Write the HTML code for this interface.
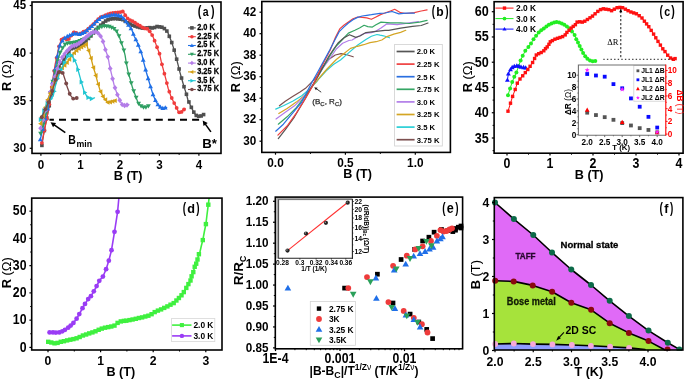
<!DOCTYPE html>
<html><head><meta charset="utf-8"><style>
html,body{margin:0;padding:0;background:#fff;width:685px;height:380px;overflow:hidden}
svg{display:block;will-change:transform}
</style></head><body>
<svg width="685" height="380" viewBox="0 0 685 380" font-family='"Liberation Sans", sans-serif'>
<rect width="685" height="380" fill="#fff"/>
<polyline points="41.9,145.4 43,138 45,127 47,117 49,107 51,97 53,88 55,80 57,72 59.5,66 63,61 67,55 71.3,48.7 75,47.5 79.2,46.1 84.2,42.7 90.5,36.4 95.8,30.1 101.1,24.8 105.3,21.2 109.5,19.1 114.7,18.5 120,19.1 123.2,19.7 127.9,22.9 132.7,25.3 137.4,26.9 143.7,28.4 149.2,27.6 153.2,28.1 157.1,26.5 161.9,27.2 164.2,28.4 167.4,31.6 169.5,36.8 171.6,42.1 173.7,48.4 175.8,55.8 177.9,64.2 180,72.6 182.1,80 184.2,87.4 186.3,93.7 187.8,99.5 190.8,106.2 193.3,111.4 195.9,115.3 199.3,116.5 202.4,115.6 204.4,113.9" fill="none" stroke="#4f4f4f" stroke-width="1.3" stroke-linejoin="round" stroke-linecap="round"/>
<rect x="40.1" y="143.6" width="3.6" height="3.6" fill="#4f4f4f"/>
<rect x="42.55" y="128.78" width="3.6" height="3.6" fill="#4f4f4f"/>
<rect x="45" y="116.2" width="3.6" height="3.6" fill="#4f4f4f"/>
<rect x="47.45" y="103.95" width="3.6" height="3.6" fill="#4f4f4f"/>
<rect x="49.9" y="92.05" width="3.6" height="3.6" fill="#4f4f4f"/>
<rect x="52.35" y="81.6" width="3.6" height="3.6" fill="#4f4f4f"/>
<rect x="54.8" y="71.8" width="3.6" height="3.6" fill="#4f4f4f"/>
<rect x="57.25" y="65.28" width="3.6" height="3.6" fill="#4f4f4f"/>
<rect x="59.7" y="61.34" width="3.6" height="3.6" fill="#4f4f4f"/>
<rect x="62.15" y="57.78" width="3.6" height="3.6" fill="#4f4f4f"/>
<rect x="64.6" y="54.1" width="3.6" height="3.6" fill="#4f4f4f"/>
<rect x="67.05" y="50.49" width="3.6" height="3.6" fill="#4f4f4f"/>
<rect x="69.5" y="46.9" width="3.6" height="3.6" fill="#4f4f4f"/>
<rect x="71.95" y="46.11" width="3.6" height="3.6" fill="#4f4f4f"/>
<rect x="74.4" y="45.3" width="3.6" height="3.6" fill="#4f4f4f"/>
<rect x="76.85" y="44.48" width="3.6" height="3.6" fill="#4f4f4f"/>
<rect x="79.3" y="43.01" width="3.6" height="3.6" fill="#4f4f4f"/>
<rect x="81.75" y="41.34" width="3.6" height="3.6" fill="#4f4f4f"/>
<rect x="84.2" y="39.1" width="3.6" height="3.6" fill="#4f4f4f"/>
<rect x="86.65" y="36.65" width="3.6" height="3.6" fill="#4f4f4f"/>
<rect x="89.1" y="34.12" width="3.6" height="3.6" fill="#4f4f4f"/>
<rect x="91.55" y="31.21" width="3.6" height="3.6" fill="#4f4f4f"/>
<rect x="94" y="28.3" width="3.6" height="3.6" fill="#4f4f4f"/>
<rect x="96.45" y="25.85" width="3.6" height="3.6" fill="#4f4f4f"/>
<rect x="98.9" y="23.4" width="3.6" height="3.6" fill="#4f4f4f"/>
<rect x="101.35" y="21.24" width="3.6" height="3.6" fill="#4f4f4f"/>
<rect x="103.8" y="19.25" width="3.6" height="3.6" fill="#4f4f4f"/>
<rect x="106.25" y="18.02" width="3.6" height="3.6" fill="#4f4f4f"/>
<rect x="108.7" y="17.18" width="3.6" height="3.6" fill="#4f4f4f"/>
<rect x="111.15" y="16.9" width="3.6" height="3.6" fill="#4f4f4f"/>
<rect x="113.6" y="16.78" width="3.6" height="3.6" fill="#4f4f4f"/>
<rect x="116.05" y="17.06" width="3.6" height="3.6" fill="#4f4f4f"/>
<rect x="118.5" y="17.36" width="3.6" height="3.6" fill="#4f4f4f"/>
<rect x="120.95" y="17.82" width="3.6" height="3.6" fill="#4f4f4f"/>
<rect x="123.4" y="19.26" width="3.6" height="3.6" fill="#4f4f4f"/>
<rect x="125.85" y="20.93" width="3.6" height="3.6" fill="#4f4f4f"/>
<rect x="128.3" y="22.2" width="3.6" height="3.6" fill="#4f4f4f"/>
<rect x="130.75" y="23.43" width="3.6" height="3.6" fill="#4f4f4f"/>
<rect x="133.2" y="24.28" width="3.6" height="3.6" fill="#4f4f4f"/>
<rect x="135.65" y="25.11" width="3.6" height="3.6" fill="#4f4f4f"/>
<rect x="138.1" y="25.7" width="3.6" height="3.6" fill="#4f4f4f"/>
<rect x="140.55" y="26.28" width="3.6" height="3.6" fill="#4f4f4f"/>
<rect x="143" y="26.44" width="3.6" height="3.6" fill="#4f4f4f"/>
<rect x="145.45" y="26.08" width="3.6" height="3.6" fill="#4f4f4f"/>
<rect x="147.9" y="25.86" width="3.6" height="3.6" fill="#4f4f4f"/>
<rect x="150.35" y="26.17" width="3.6" height="3.6" fill="#4f4f4f"/>
<rect x="152.8" y="25.73" width="3.6" height="3.6" fill="#4f4f4f"/>
<rect x="155.25" y="24.72" width="3.6" height="3.6" fill="#4f4f4f"/>
<rect x="157.7" y="25.05" width="3.6" height="3.6" fill="#4f4f4f"/>
<rect x="160.15" y="25.43" width="3.6" height="3.6" fill="#4f4f4f"/>
<rect x="162.6" y="26.8" width="3.6" height="3.6" fill="#4f4f4f"/>
<rect x="165.05" y="29.25" width="3.6" height="3.6" fill="#4f4f4f"/>
<rect x="167.5" y="34.5" width="3.6" height="3.6" fill="#4f4f4f"/>
<rect x="169.95" y="40.75" width="3.6" height="3.6" fill="#4f4f4f"/>
<rect x="172.4" y="48.36" width="3.6" height="3.6" fill="#4f4f4f"/>
<rect x="174.85" y="57.4" width="3.6" height="3.6" fill="#4f4f4f"/>
<rect x="177.3" y="67.2" width="3.6" height="3.6" fill="#4f4f4f"/>
<rect x="179.75" y="76.26" width="3.6" height="3.6" fill="#4f4f4f"/>
<rect x="182.2" y="84.9" width="3.6" height="3.6" fill="#4f4f4f"/>
<rect x="184.65" y="92.48" width="3.6" height="3.6" fill="#4f4f4f"/>
<rect x="187.1" y="100.16" width="3.6" height="3.6" fill="#4f4f4f"/>
<rect x="189.55" y="105.54" width="3.6" height="3.6" fill="#4f4f4f"/>
<rect x="192" y="110.35" width="3.6" height="3.6" fill="#4f4f4f"/>
<rect x="194.45" y="113.62" width="3.6" height="3.6" fill="#4f4f4f"/>
<rect x="196.9" y="114.49" width="3.6" height="3.6" fill="#4f4f4f"/>
<rect x="199.35" y="114.16" width="3.6" height="3.6" fill="#4f4f4f"/>
<rect x="201.8" y="112.78" width="3.6" height="3.6" fill="#4f4f4f"/>
<polyline points="41.9,142.8 44,132 47,118 49,106 51.2,90.5 53,78 55.2,64.2 57,56 58.5,48 60.5,42 62.1,38.2 65,38.5 68,40.1 71,36 74.6,31.3 77,33.8 79.9,34.5 83.2,31.6 86,31 88,29 92.6,25 97.9,19.5 100,17.5 104,16 109.7,13.4 115.3,12.6 119.2,12.3 123.2,11.4 125.5,15.8 128.7,19.7 131.4,20.5 134.2,22.1 137.4,24.5 140.6,26.1 143.7,28.4 146.9,28.4 150,31.6 152.4,35.5 154.8,41.1 157.1,47.4 159.5,53.7 161.2,61.4 163.6,70.7 165.8,78.9 168.2,88.5 170.8,96 173.4,101.5 176,106.5 178.5,112 180.5,113 182.5,111 185,108.5" fill="none" stroke="#f03c3c" stroke-width="1.3" stroke-linejoin="round" stroke-linecap="round"/>
<circle cx="41.9" cy="142.8" r="1.9" fill="#f03c3c"/>
<circle cx="44.35" cy="130.37" r="1.9" fill="#f03c3c"/>
<circle cx="46.8" cy="118.93" r="1.9" fill="#f03c3c"/>
<circle cx="49.25" cy="104.24" r="1.9" fill="#f03c3c"/>
<circle cx="51.7" cy="87.03" r="1.9" fill="#f03c3c"/>
<circle cx="54.15" cy="70.79" r="1.9" fill="#f03c3c"/>
<circle cx="56.6" cy="57.82" r="1.9" fill="#f03c3c"/>
<circle cx="59.05" cy="46.35" r="1.9" fill="#f03c3c"/>
<circle cx="61.5" cy="39.63" r="1.9" fill="#f03c3c"/>
<circle cx="63.95" cy="38.39" r="1.9" fill="#f03c3c"/>
<circle cx="66.4" cy="39.25" r="1.9" fill="#f03c3c"/>
<circle cx="68.85" cy="38.94" r="1.9" fill="#f03c3c"/>
<circle cx="71.3" cy="35.61" r="1.9" fill="#f03c3c"/>
<circle cx="73.75" cy="32.41" r="1.9" fill="#f03c3c"/>
<circle cx="76.2" cy="32.97" r="1.9" fill="#f03c3c"/>
<circle cx="78.65" cy="34.2" r="1.9" fill="#f03c3c"/>
<circle cx="81.1" cy="33.45" r="1.9" fill="#f03c3c"/>
<circle cx="83.55" cy="31.53" r="1.9" fill="#f03c3c"/>
<circle cx="86" cy="31" r="1.9" fill="#f03c3c"/>
<circle cx="88.45" cy="28.61" r="1.9" fill="#f03c3c"/>
<circle cx="90.9" cy="26.48" r="1.9" fill="#f03c3c"/>
<circle cx="93.35" cy="24.22" r="1.9" fill="#f03c3c"/>
<circle cx="95.8" cy="21.68" r="1.9" fill="#f03c3c"/>
<circle cx="98.25" cy="19.17" r="1.9" fill="#f03c3c"/>
<circle cx="100.7" cy="17.24" r="1.9" fill="#f03c3c"/>
<circle cx="103.15" cy="16.32" r="1.9" fill="#f03c3c"/>
<circle cx="105.6" cy="15.27" r="1.9" fill="#f03c3c"/>
<circle cx="108.05" cy="14.15" r="1.9" fill="#f03c3c"/>
<circle cx="110.5" cy="13.29" r="1.9" fill="#f03c3c"/>
<circle cx="112.95" cy="12.94" r="1.9" fill="#f03c3c"/>
<circle cx="115.4" cy="12.59" r="1.9" fill="#f03c3c"/>
<circle cx="117.85" cy="12.4" r="1.9" fill="#f03c3c"/>
<circle cx="120.3" cy="12.05" r="1.9" fill="#f03c3c"/>
<circle cx="122.75" cy="11.5" r="1.9" fill="#f03c3c"/>
<circle cx="125.2" cy="15.23" r="1.9" fill="#f03c3c"/>
<circle cx="127.65" cy="18.42" r="1.9" fill="#f03c3c"/>
<circle cx="130.1" cy="20.11" r="1.9" fill="#f03c3c"/>
<circle cx="132.55" cy="21.16" r="1.9" fill="#f03c3c"/>
<circle cx="135" cy="22.7" r="1.9" fill="#f03c3c"/>
<circle cx="137.45" cy="24.52" r="1.9" fill="#f03c3c"/>
<circle cx="139.9" cy="25.75" r="1.9" fill="#f03c3c"/>
<circle cx="142.35" cy="27.4" r="1.9" fill="#f03c3c"/>
<circle cx="144.8" cy="28.4" r="1.9" fill="#f03c3c"/>
<circle cx="147.25" cy="28.76" r="1.9" fill="#f03c3c"/>
<circle cx="149.7" cy="31.29" r="1.9" fill="#f03c3c"/>
<circle cx="152.15" cy="35.09" r="1.9" fill="#f03c3c"/>
<circle cx="154.6" cy="40.63" r="1.9" fill="#f03c3c"/>
<circle cx="157.05" cy="47.26" r="1.9" fill="#f03c3c"/>
<circle cx="159.5" cy="53.7" r="1.9" fill="#f03c3c"/>
<circle cx="161.95" cy="64.31" r="1.9" fill="#f03c3c"/>
<circle cx="164.4" cy="73.68" r="1.9" fill="#f03c3c"/>
<circle cx="166.85" cy="83.1" r="1.9" fill="#f03c3c"/>
<circle cx="169.3" cy="91.67" r="1.9" fill="#f03c3c"/>
<circle cx="171.75" cy="98.01" r="1.9" fill="#f03c3c"/>
<circle cx="174.2" cy="103.04" r="1.9" fill="#f03c3c"/>
<circle cx="176.65" cy="107.93" r="1.9" fill="#f03c3c"/>
<circle cx="179.1" cy="112.3" r="1.9" fill="#f03c3c"/>
<circle cx="181.55" cy="111.95" r="1.9" fill="#f03c3c"/>
<circle cx="184" cy="109.5" r="1.9" fill="#f03c3c"/>
<polyline points="40.3,139.5 43,128 46,115 48.6,105 50.3,95 51.9,85.3 54.5,72.1 56.5,62 58.2,51.3 60.1,44.7 63.4,38.8 68.7,35.5 74.6,33.5 79.9,34.2 84.5,32.2 88,29.5 92.6,25.4 97.9,20.1 102.1,16.9 107.4,15.9 113.7,14.6 116.9,15 120.8,15.8 124.8,19.7 128.7,25.3 131.9,30 134.2,36.3 137.4,42.7 139.8,49 142.1,55.3 144,63.3 146.4,72.5 148.8,80.8 151,88.1 153.3,95.5 156.2,102 159.3,106.6 163,108.4 166.7,107.5" fill="none" stroke="#1f6fe6" stroke-width="1.3" stroke-linejoin="round" stroke-linecap="round"/>
<polygon points="40.3,136.97 37.88,141.26 42.72,141.26" fill="#1f6fe6"/>
<polygon points="42.75,126.53 40.33,130.82 45.17,130.82" fill="#1f6fe6"/>
<polygon points="45.2,115.94 42.78,120.23 47.62,120.23" fill="#1f6fe6"/>
<polygon points="47.65,106.12 45.23,110.41 50.07,110.41" fill="#1f6fe6"/>
<polygon points="50.1,93.65 47.68,97.94 52.52,97.94" fill="#1f6fe6"/>
<polygon points="52.55,79.47 50.13,83.76 54.97,83.76" fill="#1f6fe6"/>
<polygon points="55,67.05 52.58,71.34 57.42,71.34" fill="#1f6fe6"/>
<polygon points="57.45,53.49 55.03,57.78 59.87,57.78" fill="#1f6fe6"/>
<polygon points="59.9,42.86 57.48,47.15 62.32,47.15" fill="#1f6fe6"/>
<polygon points="62.35,38.15 59.93,42.44 64.77,42.44" fill="#1f6fe6"/>
<polygon points="64.8,35.4 62.38,39.69 67.22,39.69" fill="#1f6fe6"/>
<polygon points="67.25,33.87 64.83,38.16 69.67,38.16" fill="#1f6fe6"/>
<polygon points="69.7,32.63 67.28,36.92 72.12,36.92" fill="#1f6fe6"/>
<polygon points="72.15,31.8 69.73,36.09 74.57,36.09" fill="#1f6fe6"/>
<polygon points="74.6,30.97 72.18,35.26 77.02,35.26" fill="#1f6fe6"/>
<polygon points="77.05,31.29 74.63,35.58 79.47,35.58" fill="#1f6fe6"/>
<polygon points="79.5,31.62 77.08,35.91 81.92,35.91" fill="#1f6fe6"/>
<polygon points="81.95,30.78 79.53,35.07 84.37,35.07" fill="#1f6fe6"/>
<polygon points="84.4,29.71 81.98,34 86.82,34" fill="#1f6fe6"/>
<polygon points="86.85,27.86 84.43,32.15 89.27,32.15" fill="#1f6fe6"/>
<polygon points="89.3,25.81 86.88,30.1 91.72,30.1" fill="#1f6fe6"/>
<polygon points="91.75,23.63 89.33,27.92 94.17,27.92" fill="#1f6fe6"/>
<polygon points="94.2,21.27 91.78,25.56 96.62,25.56" fill="#1f6fe6"/>
<polygon points="96.65,18.82 94.23,23.11 99.07,23.11" fill="#1f6fe6"/>
<polygon points="99.1,16.66 96.68,20.95 101.52,20.95" fill="#1f6fe6"/>
<polygon points="101.55,14.79 99.13,19.08 103.97,19.08" fill="#1f6fe6"/>
<polygon points="104,14.01 101.58,18.3 106.42,18.3" fill="#1f6fe6"/>
<polygon points="106.45,13.55 104.03,17.84 108.87,17.84" fill="#1f6fe6"/>
<polygon points="108.9,13.06 106.48,17.35 111.32,17.35" fill="#1f6fe6"/>
<polygon points="111.35,12.55 108.93,16.84 113.77,16.84" fill="#1f6fe6"/>
<polygon points="113.8,12.08 111.38,16.37 116.22,16.37" fill="#1f6fe6"/>
<polygon points="116.25,12.39 113.83,16.68 118.67,16.68" fill="#1f6fe6"/>
<polygon points="118.7,12.84 116.28,17.13 121.12,17.13" fill="#1f6fe6"/>
<polygon points="121.15,13.61 118.73,17.9 123.57,17.9" fill="#1f6fe6"/>
<polygon points="123.6,16 121.18,20.29 126.02,20.29" fill="#1f6fe6"/>
<polygon points="126.05,18.96 123.63,23.25 128.47,23.25" fill="#1f6fe6"/>
<polygon points="128.5,22.48 126.08,26.77 130.92,26.77" fill="#1f6fe6"/>
<polygon points="130.95,26.07 128.53,30.36 133.37,30.36" fill="#1f6fe6"/>
<polygon points="133.4,31.58 130.98,35.87 135.82,35.87" fill="#1f6fe6"/>
<polygon points="135.85,37.07 133.43,41.36 138.27,41.36" fill="#1f6fe6"/>
<polygon points="138.3,42.53 135.88,46.82 140.72,46.82" fill="#1f6fe6"/>
<polygon points="140.75,49.07 138.33,53.36 143.17,53.36" fill="#1f6fe6"/>
<polygon points="143.2,57.4 140.78,61.69 145.62,61.69" fill="#1f6fe6"/>
<polygon points="145.65,67.09 143.23,71.39 148.07,71.39" fill="#1f6fe6"/>
<polygon points="148.1,75.85 145.68,80.14 150.52,80.14" fill="#1f6fe6"/>
<polygon points="150.55,84.08 148.13,88.37 152.97,88.37" fill="#1f6fe6"/>
<polygon points="153,92 150.58,96.29 155.42,96.29" fill="#1f6fe6"/>
<polygon points="155.45,97.79 153.03,102.08 157.87,102.08" fill="#1f6fe6"/>
<polygon points="157.9,101.99 155.48,106.28 160.32,106.28" fill="#1f6fe6"/>
<polygon points="160.35,104.58 157.93,108.87 162.77,108.87" fill="#1f6fe6"/>
<polygon points="162.8,105.77 160.38,110.06 165.22,110.06" fill="#1f6fe6"/>
<polygon points="165.25,105.32 162.83,109.61 167.67,109.61" fill="#1f6fe6"/>
<polyline points="40.6,133.5 43,125 45,116 47.5,105 50,95 52.5,83 54.5,75 56.2,68.4 58,60 60.1,52.6 63.4,46.7 66,43.4 71.3,42.8 76.6,42.1 83.2,39.5 89.7,36.8 95,31 99.5,27.2 104.2,26 109,26.5 113.7,28.4 116.9,31.6 119.2,36.3 120.8,41.1 122.4,45.8 124,50.6 125.1,55.3 126.2,62.4 128,71.6 130.4,79.9 132.6,88.1 135.4,95.5 138.1,102.9 141.8,106.9 145.5,107.5 149.2,105.6" fill="none" stroke="#2f9f62" stroke-width="1.3" stroke-linejoin="round" stroke-linecap="round"/>
<polygon points="40.6,136.03 38.18,131.74 43.02,131.74" fill="#2f9f62"/>
<polygon points="43.05,127.3 40.63,123.01 45.47,123.01" fill="#2f9f62"/>
<polygon points="45.5,116.33 43.08,112.04 47.92,112.04" fill="#2f9f62"/>
<polygon points="47.95,105.73 45.53,101.44 50.37,101.44" fill="#2f9f62"/>
<polygon points="50.4,95.61 47.98,91.32 52.82,91.32" fill="#2f9f62"/>
<polygon points="52.85,84.13 50.43,79.84 55.27,79.84" fill="#2f9f62"/>
<polygon points="55.3,74.42 52.88,70.13 57.72,70.13" fill="#2f9f62"/>
<polygon points="57.75,63.7 55.33,59.41 60.17,59.41" fill="#2f9f62"/>
<polygon points="60.2,54.95 57.78,50.66 62.62,50.66" fill="#2f9f62"/>
<polygon points="62.65,50.57 60.23,46.28 65.07,46.28" fill="#2f9f62"/>
<polygon points="65.1,47.07 62.68,42.78 67.52,42.78" fill="#2f9f62"/>
<polygon points="67.55,45.75 65.13,41.46 69.97,41.46" fill="#2f9f62"/>
<polygon points="70,45.48 67.58,41.19 72.42,41.19" fill="#2f9f62"/>
<polygon points="72.45,45.18 70.03,40.89 74.87,40.89" fill="#2f9f62"/>
<polygon points="74.9,44.85 72.48,40.56 77.32,40.56" fill="#2f9f62"/>
<polygon points="77.35,44.33 74.93,40.04 79.77,40.04" fill="#2f9f62"/>
<polygon points="79.8,43.37 77.38,39.08 82.22,39.08" fill="#2f9f62"/>
<polygon points="82.25,42.4 79.83,38.11 84.67,38.11" fill="#2f9f62"/>
<polygon points="84.7,41.41 82.28,37.12 87.12,37.12" fill="#2f9f62"/>
<polygon points="87.15,40.39 84.73,36.1 89.57,36.1" fill="#2f9f62"/>
<polygon points="89.6,39.37 87.18,35.08 92.02,35.08" fill="#2f9f62"/>
<polygon points="92.05,36.76 89.63,32.47 94.47,32.47" fill="#2f9f62"/>
<polygon points="94.5,34.08 92.08,29.79 96.92,29.79" fill="#2f9f62"/>
<polygon points="96.95,31.88 94.53,27.59 99.37,27.59" fill="#2f9f62"/>
<polygon points="99.4,29.81 96.98,25.52 101.82,25.52" fill="#2f9f62"/>
<polygon points="101.85,29.13 99.43,24.84 104.27,24.84" fill="#2f9f62"/>
<polygon points="104.3,28.54 101.88,24.25 106.72,24.25" fill="#2f9f62"/>
<polygon points="106.75,28.8 104.33,24.51 109.17,24.51" fill="#2f9f62"/>
<polygon points="109.2,29.11 106.78,24.82 111.62,24.82" fill="#2f9f62"/>
<polygon points="111.65,30.1 109.23,25.81 114.07,25.81" fill="#2f9f62"/>
<polygon points="114.1,31.33 111.68,27.04 116.52,27.04" fill="#2f9f62"/>
<polygon points="116.55,33.78 114.13,29.49 118.97,29.49" fill="#2f9f62"/>
<polygon points="119,38.42 116.58,34.13 121.42,34.13" fill="#2f9f62"/>
<polygon points="121.45,45.54 119.03,41.25 123.87,41.25" fill="#2f9f62"/>
<polygon points="123.9,52.83 121.48,48.54 126.32,48.54" fill="#2f9f62"/>
<polygon points="126.35,65.7 123.93,61.41 128.77,61.41" fill="#2f9f62"/>
<polygon points="128.8,76.9 126.38,72.61 131.22,72.61" fill="#2f9f62"/>
<polygon points="131.25,85.6 128.83,81.31 133.67,81.31" fill="#2f9f62"/>
<polygon points="133.7,93.54 131.28,89.25 136.12,89.25" fill="#2f9f62"/>
<polygon points="136.15,100.09 133.73,95.8 138.57,95.8" fill="#2f9f62"/>
<polygon points="138.6,105.97 136.18,101.68 141.02,101.68" fill="#2f9f62"/>
<polygon points="141.05,108.62 138.63,104.33 143.47,104.33" fill="#2f9f62"/>
<polygon points="143.5,109.71 141.08,105.42 145.92,105.42" fill="#2f9f62"/>
<polygon points="145.95,109.8 143.53,105.51 148.37,105.51" fill="#2f9f62"/>
<polygon points="148.4,108.54 145.98,104.25 150.82,104.25" fill="#2f9f62"/>
<polyline points="40.6,128.3 43,120 45.5,110 48,100 50.5,91 53,83 55.2,76.1 57.1,69.5 59.5,62.5 62,57.5 66,52 71.3,46.5 76.6,44.7 80,42.7 86.3,36.9 91.6,32.7 95.8,31.7 98.9,33.8 101.6,37.5 103.5,43 105.5,50 107.4,55.3 108.6,60 109.6,66 112,76.2 114.2,85.4 117,93.7 119.7,100.1 122.5,105.1 125.3,105.6 128.9,104.4" fill="none" stroke="#b47de8" stroke-width="1.3" stroke-linejoin="round" stroke-linecap="round"/>
<polygon points="40.6,125.61 42.97,128.3 40.6,130.99 38.23,128.3" fill="#b47de8"/>
<polygon points="43,117.31 45.37,120 43,122.69 40.63,120" fill="#b47de8"/>
<polygon points="45.4,107.71 47.77,110.4 45.4,113.09 43.03,110.4" fill="#b47de8"/>
<polygon points="47.8,98.11 50.16,100.8 47.8,103.49 45.43,100.8" fill="#b47de8"/>
<polygon points="50.2,89.39 52.57,92.08 50.2,94.77 47.84,92.08" fill="#b47de8"/>
<polygon points="52.6,81.59 54.97,84.28 52.6,86.97 50.23,84.28" fill="#b47de8"/>
<polygon points="55,74.04 57.37,76.73 55,79.41 52.63,76.73" fill="#b47de8"/>
<polygon points="57.4,65.94 59.77,68.62 57.4,71.31 55.04,68.62" fill="#b47de8"/>
<polygon points="59.8,59.21 62.17,61.9 59.8,64.59 57.44,61.9" fill="#b47de8"/>
<polygon points="62.2,54.54 64.56,57.22 62.2,59.91 59.84,57.22" fill="#b47de8"/>
<polygon points="64.6,51.24 66.97,53.92 64.6,56.61 62.24,53.92" fill="#b47de8"/>
<polygon points="67,48.27 69.36,50.96 67,53.65 64.64,50.96" fill="#b47de8"/>
<polygon points="69.4,45.78 71.77,48.47 69.4,51.16 67.04,48.47" fill="#b47de8"/>
<polygon points="71.8,43.64 74.16,46.33 71.8,49.02 69.44,46.33" fill="#b47de8"/>
<polygon points="74.2,42.83 76.56,45.52 74.2,48.2 71.84,45.52" fill="#b47de8"/>
<polygon points="76.6,42.01 78.96,44.7 76.6,47.39 74.23,44.7" fill="#b47de8"/>
<polygon points="79,40.6 81.36,43.29 79,45.98 76.64,43.29" fill="#b47de8"/>
<polygon points="81.4,38.72 83.77,41.41 81.4,44.1 79.04,41.41" fill="#b47de8"/>
<polygon points="83.8,36.51 86.16,39.2 83.8,41.89 81.44,39.2" fill="#b47de8"/>
<polygon points="86.2,34.3 88.56,36.99 86.2,39.68 83.84,36.99" fill="#b47de8"/>
<polygon points="88.6,32.39 90.96,35.08 88.6,37.76 86.23,35.08" fill="#b47de8"/>
<polygon points="91,30.49 93.36,33.18 91,35.86 88.64,33.18" fill="#b47de8"/>
<polygon points="93.4,29.58 95.77,32.27 93.4,34.96 91.04,32.27" fill="#b47de8"/>
<polygon points="95.8,29.01 98.16,31.7 95.8,34.39 93.44,31.7" fill="#b47de8"/>
<polygon points="98.2,30.64 100.56,33.33 98.2,36.01 95.84,33.33" fill="#b47de8"/>
<polygon points="100.6,33.44 102.96,36.13 100.6,38.82 98.23,36.13" fill="#b47de8"/>
<polygon points="103,38.87 105.36,41.55 103,44.24 100.64,41.55" fill="#b47de8"/>
<polygon points="105.4,46.96 107.77,49.65 105.4,52.34 103.04,49.65" fill="#b47de8"/>
<polygon points="107.8,54.18 110.16,56.87 107.8,59.55 105.44,56.87" fill="#b47de8"/>
<polygon points="110.2,65.86 112.56,68.55 110.2,71.24 107.84,68.55" fill="#b47de8"/>
<polygon points="112.6,76.02 114.96,78.71 112.6,81.4 110.23,78.71" fill="#b47de8"/>
<polygon points="115,85.08 117.36,87.77 115,90.46 112.64,87.77" fill="#b47de8"/>
<polygon points="117.4,91.96 119.77,94.65 117.4,97.34 115.04,94.65" fill="#b47de8"/>
<polygon points="119.8,97.59 122.16,100.28 119.8,102.97 117.44,100.28" fill="#b47de8"/>
<polygon points="122.2,101.88 124.56,104.56 122.2,107.25 119.84,104.56" fill="#b47de8"/>
<polygon points="124.6,102.79 126.96,105.47 124.6,108.16 122.23,105.47" fill="#b47de8"/>
<polygon points="127,102.35 129.37,105.03 127,107.72 124.64,105.03" fill="#b47de8"/>
<polyline points="40.6,123.7 43,116 45.5,107 48,99 51,91 54,84 57,77 60,71.5 62.4,67.5 65.7,64.2 69.6,59 72.6,54.5 77.9,49.3 83.2,46.1 86.4,44.1 88.4,50 90.4,55.9 92,62 93.5,68 95,72.5 97.6,82.2 100.2,90.8 103.6,97.6 107.9,102.5 111.3,101.7 115.6,100.5" fill="none" stroke="#d4a015" stroke-width="1.3" stroke-linejoin="round" stroke-linecap="round"/>
<polygon points="38.07,123.7 42.36,121.28 42.36,126.12" fill="#d4a015"/>
<polygon points="40.47,116 44.76,113.58 44.76,118.42" fill="#d4a015"/>
<polygon points="42.87,107.36 47.16,104.94 47.16,109.78" fill="#d4a015"/>
<polygon points="45.27,99.64 49.56,97.22 49.56,102.06" fill="#d4a015"/>
<polygon points="47.67,93.13 51.96,90.71 51.96,95.55" fill="#d4a015"/>
<polygon points="50.07,87.27 54.36,84.85 54.36,89.69" fill="#d4a015"/>
<polygon points="52.47,81.67 56.76,79.25 56.76,84.09" fill="#d4a015"/>
<polygon points="54.87,76.27 59.16,73.85 59.16,78.69" fill="#d4a015"/>
<polygon points="57.27,71.87 61.56,69.45 61.56,74.29" fill="#d4a015"/>
<polygon points="59.67,67.83 63.96,65.41 63.96,70.25" fill="#d4a015"/>
<polygon points="62.07,65.3 66.36,62.88 66.36,67.72" fill="#d4a015"/>
<polygon points="64.47,62.47 68.76,60.05 68.76,64.89" fill="#d4a015"/>
<polygon points="66.87,59.27 71.16,56.85 71.16,61.69" fill="#d4a015"/>
<polygon points="69.27,55.7 73.56,53.28 73.56,58.12" fill="#d4a015"/>
<polygon points="71.67,52.93 75.96,50.51 75.96,55.35" fill="#d4a015"/>
<polygon points="74.07,50.58 78.36,48.16 78.36,53" fill="#d4a015"/>
<polygon points="76.47,48.64 80.76,46.22 80.76,51.06" fill="#d4a015"/>
<polygon points="78.87,47.19 83.16,44.77 83.16,49.61" fill="#d4a015"/>
<polygon points="81.27,45.73 85.56,43.3 85.56,48.15" fill="#d4a015"/>
<polygon points="83.67,44.23 87.96,41.8 87.96,46.65" fill="#d4a015"/>
<polygon points="86.07,50.59 90.36,48.17 90.36,53.01" fill="#d4a015"/>
<polygon points="88.47,58.19 92.76,55.77 92.76,60.61" fill="#d4a015"/>
<polygon points="90.87,67.6 95.16,65.18 95.16,70.02" fill="#d4a015"/>
<polygon points="93.27,75.48 97.56,73.06 97.56,77.9" fill="#d4a015"/>
<polygon points="95.67,84.18 99.96,81.76 99.96,86.6" fill="#d4a015"/>
<polygon points="98.07,91.6 102.36,89.18 102.36,94.02" fill="#d4a015"/>
<polygon points="100.47,96.4 104.76,93.98 104.76,98.82" fill="#d4a015"/>
<polygon points="102.87,99.65 107.16,97.23 107.16,102.07" fill="#d4a015"/>
<polygon points="105.27,102.39 109.56,99.97 109.56,104.81" fill="#d4a015"/>
<polygon points="107.67,101.96 111.96,99.54 111.96,104.38" fill="#d4a015"/>
<polygon points="110.07,101.34 114.36,98.92 114.36,103.76" fill="#d4a015"/>
<polygon points="112.47,100.67 116.76,98.25 116.76,103.09" fill="#d4a015"/>
<polyline points="40.6,119.7 43,113 46,106 49,101 53.2,96 55.2,86.6 57.5,79 60,72 63,65.5 66,59.5 69.3,53.5 72.6,56.6 75.3,61.5 77.1,66 78.6,72 80.5,78.8 83.9,90.8 87,96.8 90.8,99 94.5,97.8" fill="none" stroke="#20c6d2" stroke-width="1.3" stroke-linejoin="round" stroke-linecap="round"/>
<polygon points="43.13,119.7 38.84,117.28 38.84,122.12" fill="#20c6d2"/>
<polygon points="46.53,110.67 42.24,108.25 42.24,113.09" fill="#20c6d2"/>
<polygon points="49.93,103.67 45.64,101.25 45.64,106.09" fill="#20c6d2"/>
<polygon points="53.33,98.86 49.04,96.44 49.04,101.28" fill="#20c6d2"/>
<polygon points="56.73,91.3 52.44,88.88 52.44,93.72" fill="#20c6d2"/>
<polygon points="60.13,78.72 55.84,76.3 55.84,81.14" fill="#20c6d2"/>
<polygon points="63.53,69.83 59.24,67.41 59.24,72.25" fill="#20c6d2"/>
<polygon points="66.93,62.7 62.64,60.28 62.64,65.12" fill="#20c6d2"/>
<polygon points="70.33,56.23 66.04,53.81 66.04,58.65" fill="#20c6d2"/>
<polygon points="73.73,55.28 69.44,52.86 69.44,57.7" fill="#20c6d2"/>
<polygon points="77.13,60.23 72.84,57.81 72.84,62.65" fill="#20c6d2"/>
<polygon points="80.53,69.6 76.24,67.18 76.24,72.02" fill="#20c6d2"/>
<polygon points="83.93,81.98 79.64,79.56 79.64,84.4" fill="#20c6d2"/>
<polygon points="87.33,92.54 83.04,90.12 83.04,94.96" fill="#20c6d2"/>
<polygon points="90.73,97.49 86.44,95.07 86.44,99.91" fill="#20c6d2"/>
<polygon points="94.13,98.74 89.84,96.32 89.84,101.16" fill="#20c6d2"/>
<polyline points="41.7,117.2 45.4,108.9 49,101.6 51.8,92.4 54.6,83.1 57.3,74.9 59.7,71.2 62.9,73 65.6,81.3 67.1,86.8 70.2,95.1 73.7,99.2 77.4,97.8" fill="none" stroke="#7a4848" stroke-width="1.3" stroke-linejoin="round" stroke-linecap="round"/>
<circle cx="41.7" cy="117.2" r="1.95" fill="#7a4848"/>
<circle cx="45.2" cy="109.35" r="1.95" fill="#7a4848"/>
<circle cx="48.7" cy="102.21" r="1.95" fill="#7a4848"/>
<circle cx="52.2" cy="91.07" r="1.95" fill="#7a4848"/>
<circle cx="55.7" cy="79.76" r="1.95" fill="#7a4848"/>
<circle cx="59.2" cy="71.97" r="1.95" fill="#7a4848"/>
<circle cx="62.7" cy="72.89" r="1.95" fill="#7a4848"/>
<circle cx="66.2" cy="83.5" r="1.95" fill="#7a4848"/>
<circle cx="69.7" cy="93.76" r="1.95" fill="#7a4848"/>
<circle cx="73.2" cy="98.61" r="1.95" fill="#7a4848"/>
<circle cx="76.7" cy="98.06" r="1.95" fill="#7a4848"/>
<rect x="32" y="2" width="189" height="151.4" fill="none" stroke="#000" stroke-width="1.6"/>
<line x1="29.7" y1="5.5" x2="32" y2="5.5" stroke="#000" stroke-width="1.2" stroke-linecap="butt"/>
<text x="0" y="0" font-size="11.5" font-weight="bold" text-anchor="end" fill="#000" font-family='"Liberation Sans", sans-serif' transform="translate(26.1 9.35) scale(1 1.12)">45</text>
<line x1="29.7" y1="53.1" x2="32" y2="53.1" stroke="#000" stroke-width="1.2" stroke-linecap="butt"/>
<text x="0" y="0" font-size="11.5" font-weight="bold" text-anchor="end" fill="#000" font-family='"Liberation Sans", sans-serif' transform="translate(26.1 56.95) scale(1 1.12)">40</text>
<line x1="29.7" y1="100.7" x2="32" y2="100.7" stroke="#000" stroke-width="1.2" stroke-linecap="butt"/>
<text x="0" y="0" font-size="11.5" font-weight="bold" text-anchor="end" fill="#000" font-family='"Liberation Sans", sans-serif' transform="translate(26.1 104.55) scale(1 1.12)">35</text>
<line x1="29.7" y1="148.3" x2="32" y2="148.3" stroke="#000" stroke-width="1.2" stroke-linecap="butt"/>
<text x="0" y="0" font-size="11.5" font-weight="bold" text-anchor="end" fill="#000" font-family='"Liberation Sans", sans-serif' transform="translate(26.1 152.15) scale(1 1.12)">30</text>
<line x1="30.5" y1="29.3" x2="32" y2="29.3" stroke="#000" stroke-width="1" stroke-linecap="butt"/>
<line x1="30.5" y1="76.9" x2="32" y2="76.9" stroke="#000" stroke-width="1" stroke-linecap="butt"/>
<line x1="30.5" y1="124.5" x2="32" y2="124.5" stroke="#000" stroke-width="1" stroke-linecap="butt"/>
<line x1="40.9" y1="153.4" x2="40.9" y2="155.7" stroke="#000" stroke-width="1.2" stroke-linecap="butt"/>
<text x="0" y="0" font-size="11.6" font-weight="bold" text-anchor="middle" fill="#000" font-family='"Liberation Sans", sans-serif' transform="translate(40.9 168.8) scale(1 1.12)">0</text>
<line x1="80.4" y1="153.4" x2="80.4" y2="155.7" stroke="#000" stroke-width="1.2" stroke-linecap="butt"/>
<text x="0" y="0" font-size="11.6" font-weight="bold" text-anchor="middle" fill="#000" font-family='"Liberation Sans", sans-serif' transform="translate(80.4 168.8) scale(1 1.12)">1</text>
<line x1="119.9" y1="153.4" x2="119.9" y2="155.7" stroke="#000" stroke-width="1.2" stroke-linecap="butt"/>
<text x="0" y="0" font-size="11.6" font-weight="bold" text-anchor="middle" fill="#000" font-family='"Liberation Sans", sans-serif' transform="translate(119.9 168.8) scale(1 1.12)">2</text>
<line x1="159.4" y1="153.4" x2="159.4" y2="155.7" stroke="#000" stroke-width="1.2" stroke-linecap="butt"/>
<text x="0" y="0" font-size="11.6" font-weight="bold" text-anchor="middle" fill="#000" font-family='"Liberation Sans", sans-serif' transform="translate(159.4 168.8) scale(1 1.12)">3</text>
<line x1="198.9" y1="153.4" x2="198.9" y2="155.7" stroke="#000" stroke-width="1.2" stroke-linecap="butt"/>
<text x="0" y="0" font-size="11.6" font-weight="bold" text-anchor="middle" fill="#000" font-family='"Liberation Sans", sans-serif' transform="translate(198.9 168.8) scale(1 1.12)">4</text>
<line x1="60.65" y1="153.4" x2="60.65" y2="154.9" stroke="#000" stroke-width="1" stroke-linecap="butt"/>
<line x1="100.15" y1="153.4" x2="100.15" y2="154.9" stroke="#000" stroke-width="1" stroke-linecap="butt"/>
<line x1="139.65" y1="153.4" x2="139.65" y2="154.9" stroke="#000" stroke-width="1" stroke-linecap="butt"/>
<line x1="179.15" y1="153.4" x2="179.15" y2="154.9" stroke="#000" stroke-width="1" stroke-linecap="butt"/>
<text x="128.15" y="179.5" font-size="12.6" font-weight="bold" text-anchor="middle" fill="#000" font-family='"Liberation Sans", sans-serif'>B (T)</text>
<text transform="translate(10.9 75.5) rotate(-90)" text-anchor="middle" font-family='"Liberation Sans", sans-serif' font-size="12.9"><tspan font-weight="bold">R</tspan><tspan> (&#937;)</tspan></text>
<text x="197.8" y="16.13" font-size="14.68" font-weight="bold" font-family='"Liberation Sans", sans-serif' textLength="3.66" lengthAdjust="spacingAndGlyphs">(</text>
<text x="210.94" y="16.13" font-size="14.68" font-weight="bold" font-family='"Liberation Sans", sans-serif' textLength="3.54" lengthAdjust="spacingAndGlyphs">)</text>
<text x="202.85" y="15.7" font-size="12.59" font-weight="bold" font-family='"Liberation Sans", sans-serif' textLength="5.84" lengthAdjust="spacingAndGlyphs">a</text>
<line x1="188" y1="27.9" x2="195.8" y2="27.9" stroke="#4f4f4f" stroke-width="1.1" stroke-linecap="butt"/>
<rect x="190.1" y="26.1" width="3.6" height="3.6" fill="#4f4f4f"/>
<text x="0" y="0" font-size="7.4" font-weight="bold" text-anchor="start" fill="#000" font-family='"Liberation Sans", sans-serif' transform="translate(197.2 29.7) scale(1 1.12)" stroke="#000" stroke-width="0.25">2.0 K</text>
<line x1="188" y1="36.7" x2="195.8" y2="36.7" stroke="#f03c3c" stroke-width="1.1" stroke-linecap="butt"/>
<circle cx="191.9" cy="36.7" r="1.8" fill="#f03c3c"/>
<text x="0" y="0" font-size="7.4" font-weight="bold" text-anchor="start" fill="#000" font-family='"Liberation Sans", sans-serif' transform="translate(197.2 38.5) scale(1 1.12)" stroke="#000" stroke-width="0.25">2.25 K</text>
<line x1="188" y1="45.5" x2="195.8" y2="45.5" stroke="#1f6fe6" stroke-width="1.1" stroke-linecap="butt"/>
<polygon points="191.9,43.43 189.92,46.94 193.88,46.94" fill="#1f6fe6"/>
<text x="0" y="0" font-size="7.4" font-weight="bold" text-anchor="start" fill="#000" font-family='"Liberation Sans", sans-serif' transform="translate(197.2 47.3) scale(1 1.12)" stroke="#000" stroke-width="0.25">2.5 K</text>
<line x1="188" y1="54.3" x2="195.8" y2="54.3" stroke="#2f9f62" stroke-width="1.1" stroke-linecap="butt"/>
<polygon points="191.9,56.37 189.92,52.86 193.88,52.86" fill="#2f9f62"/>
<text x="0" y="0" font-size="7.4" font-weight="bold" text-anchor="start" fill="#000" font-family='"Liberation Sans", sans-serif' transform="translate(197.2 56.1) scale(1 1.12)" stroke="#000" stroke-width="0.25">2.75 K</text>
<line x1="188" y1="63.1" x2="195.8" y2="63.1" stroke="#b47de8" stroke-width="1.1" stroke-linecap="butt"/>
<polygon points="191.9,60.85 193.88,63.1 191.9,65.35 189.92,63.1" fill="#b47de8"/>
<text x="0" y="0" font-size="7.4" font-weight="bold" text-anchor="start" fill="#000" font-family='"Liberation Sans", sans-serif' transform="translate(197.2 64.9) scale(1 1.12)" stroke="#000" stroke-width="0.25">3.0 K</text>
<line x1="188" y1="71.9" x2="195.8" y2="71.9" stroke="#d4a015" stroke-width="1.1" stroke-linecap="butt"/>
<polygon points="189.83,71.9 193.34,69.92 193.34,73.88" fill="#d4a015"/>
<text x="0" y="0" font-size="7.4" font-weight="bold" text-anchor="start" fill="#000" font-family='"Liberation Sans", sans-serif' transform="translate(197.2 73.7) scale(1 1.12)" stroke="#000" stroke-width="0.25">3.25 K</text>
<line x1="188" y1="80.7" x2="195.8" y2="80.7" stroke="#20c6d2" stroke-width="1.1" stroke-linecap="butt"/>
<polygon points="193.97,80.7 190.46,78.72 190.46,82.68" fill="#20c6d2"/>
<text x="0" y="0" font-size="7.4" font-weight="bold" text-anchor="start" fill="#000" font-family='"Liberation Sans", sans-serif' transform="translate(197.2 82.5) scale(1 1.12)" stroke="#000" stroke-width="0.25">3.5 K</text>
<line x1="188" y1="89.5" x2="195.8" y2="89.5" stroke="#7a4848" stroke-width="1.1" stroke-linecap="butt"/>
<circle cx="191.9" cy="89.5" r="1.8" fill="#7a4848"/>
<text x="0" y="0" font-size="7.4" font-weight="bold" text-anchor="start" fill="#000" font-family='"Liberation Sans", sans-serif' transform="translate(197.2 91.3) scale(1 1.12)" stroke="#000" stroke-width="0.25">3.75 K</text>
<line x1="49.5" y1="119.8" x2="201.2" y2="119.8" stroke="#000" stroke-width="1.9" stroke-dasharray="7 5.1" stroke-dashoffset="2.6"/>
<line x1="65.3" y1="132.6" x2="54.18" y2="124.79" stroke="#000" stroke-width="1.6" stroke-linecap="butt"/>
<polygon points="50.5,122.2 56.09,122.95 53.1,127.2" fill="#000" stroke="none" stroke-width="0"/>
<line x1="210.9" y1="131.9" x2="205.33" y2="124.15" stroke="#000" stroke-width="1.6" stroke-linecap="butt"/>
<polygon points="202.7,120.5 207.73,123.04 203.51,126.08" fill="#000" stroke="none" stroke-width="0"/>
<text x="68.3" y="143.9" font-family='"Liberation Sans", sans-serif' font-size="13.4" font-weight="bold"><tspan textLength="7.6" lengthAdjust="spacingAndGlyphs">B</tspan></text>
<text x="76.4" y="147.3" font-family='"Liberation Sans", sans-serif' font-size="9.8" font-weight="bold" textLength="15.6" lengthAdjust="spacingAndGlyphs">min</text>
<text x="202.3" y="148.1" font-size="13.2" font-weight="bold" text-anchor="start" fill="#000" font-family='"Liberation Sans", sans-serif'>B*</text>
<polyline points="279.4,105.8 285.3,101.2 292.6,96.6 300,92 305.5,88.3 309.2,84.6 312.9,80.9 316.8,76.4 322,68 328.7,59.5 335.3,55 341,53.7 346.8,54.7 353.2,56.8" fill="none" stroke="#7d5050" stroke-width="1.2" stroke-linejoin="round" stroke-linecap="round"/>
<polyline points="275.7,109.1 283.4,105.8 292.6,101.2 301.8,95.7 309.2,89.2 316.6,81.8 319.2,78.5 326,71 333.4,64.5 340.5,60 348.9,52.6 357.4,45.3 365.9,39.5 371.4,36.3 377,34.5 380,35.2 383.5,35.8 389.5,37.8" fill="none" stroke="#2acfd6" stroke-width="1.2" stroke-linejoin="round" stroke-linecap="round"/>
<polyline points="278.8,113.5 287.1,108.5 296.3,102.1 305.5,94.7 312.9,85.5 319.2,78 327,69 336.3,59.5 343.7,53.7 350.5,48.4 357.4,46.3 363.7,44.7 370,42.6 376.1,41.7 381.8,40 387,36.6 393.8,34.1 400.6,32.4 405.8,30.3" fill="none" stroke="#d4a524" stroke-width="1.2" stroke-linejoin="round" stroke-linecap="round"/>
<polyline points="276,119 285.3,112.2 294.5,105.8 303.7,96.6 311,87.4 316,80 323,68 330,58.5 336.3,49 342.6,43.2 348.9,40.5 352.1,40 357.6,36.8 364.1,33.5 371.4,32.6 376.1,31.1 381,28.1 387,23.8 397.2,24.7 409.2,22.9 418.6,21.6" fill="none" stroke="#b27ee8" stroke-width="1.2" stroke-linejoin="round" stroke-linecap="round"/>
<polyline points="278.3,124.2 287.1,116.8 296.3,107.6 305.5,95.7 312.9,85.5 318,76 324,66 330,55.8 336.3,46 342,40 348.4,33.1 354.9,30.3 359.5,28 364.1,25.3 367.8,26.6 372.4,27.1 376,24.8 381,22.1 390.4,22.9 400.6,22.9 409.2,23.5 419.4,22.1 427.1,20.4" fill="none" stroke="#36a665" stroke-width="1.2" stroke-linejoin="round" stroke-linecap="round"/>
<polyline points="278.3,138.6 285.3,129.7 294.5,116.8 303.7,101.2 312,86.4 318,76 324,65 329,56 333.7,49 338,43 343.7,38 349.5,34.7 355.8,37.4 360,36 365.9,32.6 376,31.3 385,30.4 388.7,30.3 400.6,28.1 412.6,26.4 421.2,25.5 428,23" fill="none" stroke="#555555" stroke-width="1.2" stroke-linejoin="round" stroke-linecap="round"/>
<polyline points="277.9,135.2 287.1,126 296.3,113.1 305.5,98.4 312.9,85.5 318,74 324,62 330,50.5 335.5,37.2 339.7,28.9 343.8,25.3 348.4,22 353,18.8 357.6,17 362.2,17.4 366.8,17.9 371.4,19.3 376,17 380,14.9 383.5,13.5 390.4,11 394.7,9.3 400.6,12.7 405.8,13.5 414.3,12.7 421.2,11 427.1,9.8" fill="none" stroke="#ef4040" stroke-width="1.2" stroke-linejoin="round" stroke-linecap="round"/>
<polyline points="275.7,131.2 283.4,124.2 292.6,113.1 301.8,102.1 311.3,83.5 318,71.5 324,60.5 330,49.5 335.1,39.5 339.2,31.7 343.8,27.1 348.4,23 353,19.7 357.6,17.4 362.2,16 366.8,15.3 371.4,14.7 380,13.3 385.1,13 392.1,11.5 398.9,13.9 405.8,13.2 414.3,13.2" fill="none" stroke="#2a6fe0" stroke-width="1.2" stroke-linejoin="round" stroke-linecap="round"/>
<rect x="261.8" y="1.5" width="188.6" height="150.9" fill="none" stroke="#000" stroke-width="1.6"/>
<line x1="259.5" y1="12.2" x2="261.8" y2="12.2" stroke="#000" stroke-width="1.2" stroke-linecap="butt"/>
<text x="0" y="0" font-size="11.7" font-weight="bold" text-anchor="end" fill="#000" font-family='"Liberation Sans", sans-serif' transform="translate(256.3 15.95) scale(1 1.12)">42</text>
<line x1="259.5" y1="33.7" x2="261.8" y2="33.7" stroke="#000" stroke-width="1.2" stroke-linecap="butt"/>
<text x="0" y="0" font-size="11.7" font-weight="bold" text-anchor="end" fill="#000" font-family='"Liberation Sans", sans-serif' transform="translate(256.3 37.45) scale(1 1.12)">40</text>
<line x1="259.5" y1="55.2" x2="261.8" y2="55.2" stroke="#000" stroke-width="1.2" stroke-linecap="butt"/>
<text x="0" y="0" font-size="11.7" font-weight="bold" text-anchor="end" fill="#000" font-family='"Liberation Sans", sans-serif' transform="translate(256.3 58.95) scale(1 1.12)">38</text>
<line x1="259.5" y1="76.7" x2="261.8" y2="76.7" stroke="#000" stroke-width="1.2" stroke-linecap="butt"/>
<text x="0" y="0" font-size="11.7" font-weight="bold" text-anchor="end" fill="#000" font-family='"Liberation Sans", sans-serif' transform="translate(256.3 80.45) scale(1 1.12)">36</text>
<line x1="259.5" y1="98.2" x2="261.8" y2="98.2" stroke="#000" stroke-width="1.2" stroke-linecap="butt"/>
<text x="0" y="0" font-size="11.7" font-weight="bold" text-anchor="end" fill="#000" font-family='"Liberation Sans", sans-serif' transform="translate(256.3 101.95) scale(1 1.12)">34</text>
<line x1="259.5" y1="119.7" x2="261.8" y2="119.7" stroke="#000" stroke-width="1.2" stroke-linecap="butt"/>
<text x="0" y="0" font-size="11.7" font-weight="bold" text-anchor="end" fill="#000" font-family='"Liberation Sans", sans-serif' transform="translate(256.3 123.45) scale(1 1.12)">32</text>
<line x1="259.5" y1="141.2" x2="261.8" y2="141.2" stroke="#000" stroke-width="1.2" stroke-linecap="butt"/>
<text x="0" y="0" font-size="11.7" font-weight="bold" text-anchor="end" fill="#000" font-family='"Liberation Sans", sans-serif' transform="translate(256.3 144.95) scale(1 1.12)">30</text>
<line x1="260.3" y1="22.95" x2="261.8" y2="22.95" stroke="#000" stroke-width="1" stroke-linecap="butt"/>
<line x1="260.3" y1="44.45" x2="261.8" y2="44.45" stroke="#000" stroke-width="1" stroke-linecap="butt"/>
<line x1="260.3" y1="65.95" x2="261.8" y2="65.95" stroke="#000" stroke-width="1" stroke-linecap="butt"/>
<line x1="260.3" y1="87.45" x2="261.8" y2="87.45" stroke="#000" stroke-width="1" stroke-linecap="butt"/>
<line x1="260.3" y1="108.95" x2="261.8" y2="108.95" stroke="#000" stroke-width="1" stroke-linecap="butt"/>
<line x1="260.3" y1="130.45" x2="261.8" y2="130.45" stroke="#000" stroke-width="1" stroke-linecap="butt"/>
<line x1="275.5" y1="152.4" x2="275.5" y2="154.7" stroke="#000" stroke-width="1.2" stroke-linecap="butt"/>
<text x="0" y="0" font-size="11.8" font-weight="bold" text-anchor="middle" fill="#000" font-family='"Liberation Sans", sans-serif' transform="translate(275.5 167.3) scale(1 1.12)">0.0</text>
<line x1="345.4" y1="152.4" x2="345.4" y2="154.7" stroke="#000" stroke-width="1.2" stroke-linecap="butt"/>
<text x="0" y="0" font-size="11.8" font-weight="bold" text-anchor="middle" fill="#000" font-family='"Liberation Sans", sans-serif' transform="translate(345.4 167.3) scale(1 1.12)">0.5</text>
<line x1="415.3" y1="152.4" x2="415.3" y2="154.7" stroke="#000" stroke-width="1.2" stroke-linecap="butt"/>
<text x="0" y="0" font-size="11.8" font-weight="bold" text-anchor="middle" fill="#000" font-family='"Liberation Sans", sans-serif' transform="translate(415.3 167.3) scale(1 1.12)">1.0</text>
<line x1="310.45" y1="152.4" x2="310.45" y2="153.9" stroke="#000" stroke-width="1" stroke-linecap="butt"/>
<line x1="380.35" y1="152.4" x2="380.35" y2="153.9" stroke="#000" stroke-width="1" stroke-linecap="butt"/>
<text x="357.5" y="178.3" font-size="12.6" font-weight="bold" text-anchor="middle" fill="#000" font-family='"Liberation Sans", sans-serif'>B (T)</text>
<text transform="translate(239.7 76.8) rotate(-90)" text-anchor="middle" font-family='"Liberation Sans", sans-serif' font-size="12.9"><tspan font-weight="bold">R</tspan><tspan> (&#937;)</tspan></text>
<text x="431.65" y="15.94" font-size="14.15" font-weight="bold" font-family='"Liberation Sans", sans-serif' textLength="3.31" lengthAdjust="spacingAndGlyphs">(</text>
<text x="445.14" y="15.94" font-size="14.15" font-weight="bold" font-family='"Liberation Sans", sans-serif' textLength="3.31" lengthAdjust="spacingAndGlyphs">)</text>
<text x="436.35" y="15.5" font-size="13.33" font-weight="bold" font-family='"Liberation Sans", sans-serif' textLength="7.4" lengthAdjust="spacingAndGlyphs">b</text>
<rect x="394.6" y="44.4" width="47.7" height="101.6" fill="#fff" stroke="#d0d0d0" stroke-width="0.8"/>
<line x1="396.6" y1="51.5" x2="414.6" y2="51.5" stroke="#555555" stroke-width="1.7" stroke-linecap="butt"/>
<text x="416.8" y="54.3" font-size="7.7" font-weight="bold" text-anchor="start" fill="#000" font-family='"Liberation Sans", sans-serif'>2.0 K</text>
<line x1="396.6" y1="64.1" x2="414.6" y2="64.1" stroke="#ef4040" stroke-width="1.7" stroke-linecap="butt"/>
<text x="416.8" y="66.9" font-size="7.7" font-weight="bold" text-anchor="start" fill="#000" font-family='"Liberation Sans", sans-serif'>2.25 K</text>
<line x1="396.6" y1="76.7" x2="414.6" y2="76.7" stroke="#2a6fe0" stroke-width="1.7" stroke-linecap="butt"/>
<text x="416.8" y="79.5" font-size="7.7" font-weight="bold" text-anchor="start" fill="#000" font-family='"Liberation Sans", sans-serif'>2.5 K</text>
<line x1="396.6" y1="89.3" x2="414.6" y2="89.3" stroke="#36a665" stroke-width="1.7" stroke-linecap="butt"/>
<text x="416.8" y="92.1" font-size="7.7" font-weight="bold" text-anchor="start" fill="#000" font-family='"Liberation Sans", sans-serif'>2.75 K</text>
<line x1="396.6" y1="101.9" x2="414.6" y2="101.9" stroke="#b27ee8" stroke-width="1.7" stroke-linecap="butt"/>
<text x="416.8" y="104.7" font-size="7.7" font-weight="bold" text-anchor="start" fill="#000" font-family='"Liberation Sans", sans-serif'>3.0 K</text>
<line x1="396.6" y1="114.5" x2="414.6" y2="114.5" stroke="#d4a524" stroke-width="1.7" stroke-linecap="butt"/>
<text x="416.8" y="117.3" font-size="7.7" font-weight="bold" text-anchor="start" fill="#000" font-family='"Liberation Sans", sans-serif'>3.25 K</text>
<line x1="396.6" y1="127.1" x2="414.6" y2="127.1" stroke="#2acfd6" stroke-width="1.7" stroke-linecap="butt"/>
<text x="416.8" y="129.9" font-size="7.7" font-weight="bold" text-anchor="start" fill="#000" font-family='"Liberation Sans", sans-serif'>3.5 K</text>
<line x1="396.6" y1="139.7" x2="414.6" y2="139.7" stroke="#7d5050" stroke-width="1.7" stroke-linecap="butt"/>
<text x="416.8" y="142.5" font-size="7.7" font-weight="bold" text-anchor="start" fill="#000" font-family='"Liberation Sans", sans-serif'>3.75 K</text>
<line x1="321.2" y1="92.2" x2="316.4" y2="88.77" stroke="#222" stroke-width="0.9" stroke-linecap="butt"/>
<polygon points="314.2,87.2 317.68,87.84 315.93,90.28" fill="#222" stroke="none" stroke-width="0"/>
<text x="312.3" y="104.4" font-family='"Liberation Sans", sans-serif' font-size="8.0" fill="#2a2a2a" stroke="#2a2a2a" stroke-width="0.25">(B<tspan font-size="6" dy="2">C</tspan><tspan dy="-2">, R</tspan><tspan font-size="6" dy="2">C</tspan><tspan dy="-2">)</tspan></text>
<polyline points="508,95.2 510.1,88.4 512.2,82.1 514.3,76.8 516.4,72.6 518.5,66.3 520.6,60.6 522.7,55.8 525.3,50.8 528.4,46.9 531,43.5 533.5,39.2 536.1,35.8 538.7,32.4 541.2,30.3 543.8,28.6 546.4,26.4 548.9,24.7 551.5,23.5 554.1,22.6 556.6,22.1 559.2,22.4 561.8,23.5 564.3,24.7 566.9,26.4 569.4,28.6 572,31.5 574.6,34.9 576.3,39.2 578,42.6 579.7,46 581.4,49.4 583.1,52.9 585.2,56.3 587.4,58.8 590,60.6 592.7,61.2 595.3,60.9" fill="none" stroke="#22ee22" stroke-width="1" stroke-linejoin="round" stroke-linecap="round"/>
<circle cx="508" cy="95.2" r="2" fill="#22ee22"/>
<circle cx="510.1" cy="88.4" r="2" fill="#22ee22"/>
<circle cx="512.2" cy="82.1" r="2" fill="#22ee22"/>
<circle cx="514.3" cy="76.8" r="2" fill="#22ee22"/>
<circle cx="516.4" cy="72.6" r="2" fill="#22ee22"/>
<circle cx="518.5" cy="66.3" r="2" fill="#22ee22"/>
<circle cx="520.6" cy="60.6" r="2" fill="#22ee22"/>
<circle cx="522.7" cy="55.8" r="2" fill="#22ee22"/>
<circle cx="525.3" cy="50.8" r="2" fill="#22ee22"/>
<circle cx="528.4" cy="46.9" r="2" fill="#22ee22"/>
<circle cx="531" cy="43.5" r="2" fill="#22ee22"/>
<circle cx="533.5" cy="39.2" r="2" fill="#22ee22"/>
<circle cx="536.1" cy="35.8" r="2" fill="#22ee22"/>
<circle cx="538.7" cy="32.4" r="2" fill="#22ee22"/>
<circle cx="541.2" cy="30.3" r="2" fill="#22ee22"/>
<circle cx="543.8" cy="28.6" r="2" fill="#22ee22"/>
<circle cx="546.4" cy="26.4" r="2" fill="#22ee22"/>
<circle cx="548.9" cy="24.7" r="2" fill="#22ee22"/>
<circle cx="551.5" cy="23.5" r="2" fill="#22ee22"/>
<circle cx="554.1" cy="22.6" r="2" fill="#22ee22"/>
<circle cx="556.6" cy="22.1" r="2" fill="#22ee22"/>
<circle cx="559.2" cy="22.4" r="2" fill="#22ee22"/>
<circle cx="561.8" cy="23.5" r="2" fill="#22ee22"/>
<circle cx="564.3" cy="24.7" r="2" fill="#22ee22"/>
<circle cx="566.9" cy="26.4" r="2" fill="#22ee22"/>
<circle cx="569.4" cy="28.6" r="2" fill="#22ee22"/>
<circle cx="572" cy="31.5" r="2" fill="#22ee22"/>
<circle cx="574.6" cy="34.9" r="2" fill="#22ee22"/>
<circle cx="576.3" cy="39.2" r="2" fill="#22ee22"/>
<circle cx="578" cy="42.6" r="2" fill="#22ee22"/>
<circle cx="579.7" cy="46" r="2" fill="#22ee22"/>
<circle cx="581.4" cy="49.4" r="2" fill="#22ee22"/>
<circle cx="583.1" cy="52.9" r="2" fill="#22ee22"/>
<circle cx="585.2" cy="56.3" r="2" fill="#22ee22"/>
<circle cx="587.4" cy="58.8" r="2" fill="#22ee22"/>
<circle cx="590" cy="60.6" r="2" fill="#22ee22"/>
<circle cx="592.7" cy="61.2" r="2" fill="#22ee22"/>
<circle cx="595.3" cy="60.9" r="2" fill="#22ee22"/>
<polyline points="507.4,80 508.4,73.7 510.5,69.5 512.2,67.4 514.3,66.3 516.8,65.7 518.9,66.3 521,67 523.6,67.4 525.7,67.8" fill="none" stroke="#1010ff" stroke-width="1" stroke-linejoin="round" stroke-linecap="round"/>
<polygon points="507.4,77.47 504.98,81.76 509.82,81.76" fill="#1010ff"/>
<polygon points="508.4,71.17 505.98,75.46 510.82,75.46" fill="#1010ff"/>
<polygon points="510.5,66.97 508.08,71.26 512.92,71.26" fill="#1010ff"/>
<polygon points="512.2,64.87 509.78,69.16 514.62,69.16" fill="#1010ff"/>
<polygon points="514.3,63.77 511.88,68.06 516.72,68.06" fill="#1010ff"/>
<polygon points="516.8,63.17 514.38,67.46 519.22,67.46" fill="#1010ff"/>
<polygon points="518.9,63.77 516.48,68.06 521.32,68.06" fill="#1010ff"/>
<polygon points="521,64.47 518.58,68.76 523.42,68.76" fill="#1010ff"/>
<polygon points="523.6,64.87 521.18,69.16 526.02,69.16" fill="#1010ff"/>
<polygon points="525.7,65.27 523.28,69.56 528.12,69.56" fill="#1010ff"/>
<polyline points="508,111.2 510.5,103.2 512.6,96.4 515.2,89.5 517.3,83.2 520,79 522.7,75.8 525.3,72.6 527.8,69.5 530.1,66.3 532.6,62.5 534.6,58.5 536.3,55 538.7,53.7 541.2,52.5 543.8,50.8 545.5,48.6 547.2,46.9 548.9,44.3 550.3,41.8 552.4,40.6 554.9,39.2 557.5,38.3 560,37.5 562.6,36.6 565.2,34.9 566.9,32.4 569.1,30.3 571.2,28.1 573.2,26.4 575.4,24.7 577.1,22.1 579.7,21.8 582.3,22.1 584.8,21.2 587.4,19.5 590,17.8 592.5,16.1 595.1,13.8 597.8,11.4 600.5,9.6 603.3,8.8 606,9.2 608.8,9.6 611.6,10.7 614.3,9.2 617.1,7.7 619.9,7.4 622.6,7.7 625.4,9.2 628.1,10.7 630.9,12 633.7,12.9 636.4,13.8 639.2,15.7 642,18 644.4,21.2 646.6,23.9 648.8,26.7 651.2,30.4 653.6,34.1 655.8,37.8 658,41.4 660.4,45.1 662.8,48.8 665,51.6 667.7,55.2 670.5,58 673.3,59.3 675.1,58.6" fill="none" stroke="#ff1010" stroke-width="1" stroke-linejoin="round" stroke-linecap="round"/>
<rect x="506.3" y="109.5" width="3.4" height="3.4" fill="#ff1010"/>
<rect x="508.8" y="101.5" width="3.4" height="3.4" fill="#ff1010"/>
<rect x="510.9" y="94.7" width="3.4" height="3.4" fill="#ff1010"/>
<rect x="513.5" y="87.8" width="3.4" height="3.4" fill="#ff1010"/>
<rect x="515.6" y="81.5" width="3.4" height="3.4" fill="#ff1010"/>
<rect x="518.3" y="77.3" width="3.4" height="3.4" fill="#ff1010"/>
<rect x="521" y="74.1" width="3.4" height="3.4" fill="#ff1010"/>
<rect x="523.6" y="70.9" width="3.4" height="3.4" fill="#ff1010"/>
<rect x="526.1" y="67.8" width="3.4" height="3.4" fill="#ff1010"/>
<rect x="528.4" y="64.6" width="3.4" height="3.4" fill="#ff1010"/>
<rect x="530.9" y="60.8" width="3.4" height="3.4" fill="#ff1010"/>
<rect x="532.9" y="56.8" width="3.4" height="3.4" fill="#ff1010"/>
<rect x="534.6" y="53.3" width="3.4" height="3.4" fill="#ff1010"/>
<rect x="537" y="52" width="3.4" height="3.4" fill="#ff1010"/>
<rect x="539.5" y="50.8" width="3.4" height="3.4" fill="#ff1010"/>
<rect x="542.1" y="49.1" width="3.4" height="3.4" fill="#ff1010"/>
<rect x="543.8" y="46.9" width="3.4" height="3.4" fill="#ff1010"/>
<rect x="545.5" y="45.2" width="3.4" height="3.4" fill="#ff1010"/>
<rect x="547.2" y="42.6" width="3.4" height="3.4" fill="#ff1010"/>
<rect x="548.6" y="40.1" width="3.4" height="3.4" fill="#ff1010"/>
<rect x="550.7" y="38.9" width="3.4" height="3.4" fill="#ff1010"/>
<rect x="553.2" y="37.5" width="3.4" height="3.4" fill="#ff1010"/>
<rect x="555.8" y="36.6" width="3.4" height="3.4" fill="#ff1010"/>
<rect x="558.3" y="35.8" width="3.4" height="3.4" fill="#ff1010"/>
<rect x="560.9" y="34.9" width="3.4" height="3.4" fill="#ff1010"/>
<rect x="563.5" y="33.2" width="3.4" height="3.4" fill="#ff1010"/>
<rect x="565.2" y="30.7" width="3.4" height="3.4" fill="#ff1010"/>
<rect x="567.4" y="28.6" width="3.4" height="3.4" fill="#ff1010"/>
<rect x="569.5" y="26.4" width="3.4" height="3.4" fill="#ff1010"/>
<rect x="571.5" y="24.7" width="3.4" height="3.4" fill="#ff1010"/>
<rect x="573.7" y="23" width="3.4" height="3.4" fill="#ff1010"/>
<rect x="575.4" y="20.4" width="3.4" height="3.4" fill="#ff1010"/>
<rect x="578" y="20.1" width="3.4" height="3.4" fill="#ff1010"/>
<rect x="580.6" y="20.4" width="3.4" height="3.4" fill="#ff1010"/>
<rect x="583.1" y="19.5" width="3.4" height="3.4" fill="#ff1010"/>
<rect x="585.7" y="17.8" width="3.4" height="3.4" fill="#ff1010"/>
<rect x="588.3" y="16.1" width="3.4" height="3.4" fill="#ff1010"/>
<rect x="590.8" y="14.4" width="3.4" height="3.4" fill="#ff1010"/>
<rect x="593.4" y="12.1" width="3.4" height="3.4" fill="#ff1010"/>
<rect x="596.1" y="9.7" width="3.4" height="3.4" fill="#ff1010"/>
<rect x="598.8" y="7.9" width="3.4" height="3.4" fill="#ff1010"/>
<rect x="601.6" y="7.1" width="3.4" height="3.4" fill="#ff1010"/>
<rect x="604.3" y="7.5" width="3.4" height="3.4" fill="#ff1010"/>
<rect x="607.1" y="7.9" width="3.4" height="3.4" fill="#ff1010"/>
<rect x="609.9" y="9" width="3.4" height="3.4" fill="#ff1010"/>
<rect x="612.6" y="7.5" width="3.4" height="3.4" fill="#ff1010"/>
<rect x="615.4" y="6" width="3.4" height="3.4" fill="#ff1010"/>
<rect x="618.2" y="5.7" width="3.4" height="3.4" fill="#ff1010"/>
<rect x="620.9" y="6" width="3.4" height="3.4" fill="#ff1010"/>
<rect x="623.7" y="7.5" width="3.4" height="3.4" fill="#ff1010"/>
<rect x="626.4" y="9" width="3.4" height="3.4" fill="#ff1010"/>
<rect x="629.2" y="10.3" width="3.4" height="3.4" fill="#ff1010"/>
<rect x="632" y="11.2" width="3.4" height="3.4" fill="#ff1010"/>
<rect x="634.7" y="12.1" width="3.4" height="3.4" fill="#ff1010"/>
<rect x="637.5" y="14" width="3.4" height="3.4" fill="#ff1010"/>
<rect x="640.3" y="16.3" width="3.4" height="3.4" fill="#ff1010"/>
<rect x="642.7" y="19.5" width="3.4" height="3.4" fill="#ff1010"/>
<rect x="644.9" y="22.2" width="3.4" height="3.4" fill="#ff1010"/>
<rect x="647.1" y="25" width="3.4" height="3.4" fill="#ff1010"/>
<rect x="649.5" y="28.7" width="3.4" height="3.4" fill="#ff1010"/>
<rect x="651.9" y="32.4" width="3.4" height="3.4" fill="#ff1010"/>
<rect x="654.1" y="36.1" width="3.4" height="3.4" fill="#ff1010"/>
<rect x="656.3" y="39.7" width="3.4" height="3.4" fill="#ff1010"/>
<rect x="658.7" y="43.4" width="3.4" height="3.4" fill="#ff1010"/>
<rect x="661.1" y="47.1" width="3.4" height="3.4" fill="#ff1010"/>
<rect x="663.3" y="49.9" width="3.4" height="3.4" fill="#ff1010"/>
<rect x="666" y="53.5" width="3.4" height="3.4" fill="#ff1010"/>
<rect x="668.8" y="56.3" width="3.4" height="3.4" fill="#ff1010"/>
<rect x="671.6" y="57.6" width="3.4" height="3.4" fill="#ff1010"/>
<rect x="673.4" y="56.9" width="3.4" height="3.4" fill="#ff1010"/>
<rect x="494.1" y="1.7" width="189" height="151.5" fill="none" stroke="#000" stroke-width="1.6"/>
<line x1="491.8" y1="11.7" x2="494.1" y2="11.7" stroke="#000" stroke-width="1.2" stroke-linecap="butt"/>
<text x="0" y="0" font-size="12.6" font-weight="bold" text-anchor="end" fill="#000" font-family='"Liberation Sans", sans-serif' transform="translate(488.8 16.2) scale(1 1.12)">60</text>
<line x1="491.8" y1="36.96" x2="494.1" y2="36.96" stroke="#000" stroke-width="1.2" stroke-linecap="butt"/>
<text x="0" y="0" font-size="12.6" font-weight="bold" text-anchor="end" fill="#000" font-family='"Liberation Sans", sans-serif' transform="translate(488.8 41.46) scale(1 1.12)">55</text>
<line x1="491.8" y1="62.22" x2="494.1" y2="62.22" stroke="#000" stroke-width="1.2" stroke-linecap="butt"/>
<text x="0" y="0" font-size="12.6" font-weight="bold" text-anchor="end" fill="#000" font-family='"Liberation Sans", sans-serif' transform="translate(488.8 66.72) scale(1 1.12)">50</text>
<line x1="491.8" y1="87.48" x2="494.1" y2="87.48" stroke="#000" stroke-width="1.2" stroke-linecap="butt"/>
<text x="0" y="0" font-size="12.6" font-weight="bold" text-anchor="end" fill="#000" font-family='"Liberation Sans", sans-serif' transform="translate(488.8 91.98) scale(1 1.12)">45</text>
<line x1="491.8" y1="112.74" x2="494.1" y2="112.74" stroke="#000" stroke-width="1.2" stroke-linecap="butt"/>
<text x="0" y="0" font-size="12.6" font-weight="bold" text-anchor="end" fill="#000" font-family='"Liberation Sans", sans-serif' transform="translate(488.8 117.24) scale(1 1.12)">40</text>
<line x1="491.8" y1="138" x2="494.1" y2="138" stroke="#000" stroke-width="1.2" stroke-linecap="butt"/>
<text x="0" y="0" font-size="12.6" font-weight="bold" text-anchor="end" fill="#000" font-family='"Liberation Sans", sans-serif' transform="translate(488.8 142.5) scale(1 1.12)">35</text>
<line x1="492.6" y1="24.33" x2="494.1" y2="24.33" stroke="#000" stroke-width="1" stroke-linecap="butt"/>
<line x1="492.6" y1="49.59" x2="494.1" y2="49.59" stroke="#000" stroke-width="1" stroke-linecap="butt"/>
<line x1="492.6" y1="74.85" x2="494.1" y2="74.85" stroke="#000" stroke-width="1" stroke-linecap="butt"/>
<line x1="492.6" y1="100.11" x2="494.1" y2="100.11" stroke="#000" stroke-width="1" stroke-linecap="butt"/>
<line x1="492.6" y1="125.37" x2="494.1" y2="125.37" stroke="#000" stroke-width="1" stroke-linecap="butt"/>
<line x1="492.6" y1="150.63" x2="494.1" y2="150.63" stroke="#000" stroke-width="1" stroke-linecap="butt"/>
<line x1="507" y1="153.2" x2="507" y2="155.5" stroke="#000" stroke-width="1.2" stroke-linecap="butt"/>
<text x="0" y="0" font-size="12.4" font-weight="bold" text-anchor="middle" fill="#000" font-family='"Liberation Sans", sans-serif' transform="translate(507 168.3) scale(1 1.12)">0</text>
<line x1="550" y1="153.2" x2="550" y2="155.5" stroke="#000" stroke-width="1.2" stroke-linecap="butt"/>
<text x="0" y="0" font-size="12.4" font-weight="bold" text-anchor="middle" fill="#000" font-family='"Liberation Sans", sans-serif' transform="translate(550 168.3) scale(1 1.12)">1</text>
<line x1="593" y1="153.2" x2="593" y2="155.5" stroke="#000" stroke-width="1.2" stroke-linecap="butt"/>
<text x="0" y="0" font-size="12.4" font-weight="bold" text-anchor="middle" fill="#000" font-family='"Liberation Sans", sans-serif' transform="translate(593 168.3) scale(1 1.12)">2</text>
<line x1="636" y1="153.2" x2="636" y2="155.5" stroke="#000" stroke-width="1.2" stroke-linecap="butt"/>
<text x="0" y="0" font-size="12.4" font-weight="bold" text-anchor="middle" fill="#000" font-family='"Liberation Sans", sans-serif' transform="translate(636 168.3) scale(1 1.12)">3</text>
<line x1="679" y1="153.2" x2="679" y2="155.5" stroke="#000" stroke-width="1.2" stroke-linecap="butt"/>
<text x="0" y="0" font-size="12.4" font-weight="bold" text-anchor="middle" fill="#000" font-family='"Liberation Sans", sans-serif' transform="translate(679 168.3) scale(1 1.12)">4</text>
<line x1="528.5" y1="153.2" x2="528.5" y2="154.7" stroke="#000" stroke-width="1" stroke-linecap="butt"/>
<line x1="571.5" y1="153.2" x2="571.5" y2="154.7" stroke="#000" stroke-width="1" stroke-linecap="butt"/>
<line x1="614.5" y1="153.2" x2="614.5" y2="154.7" stroke="#000" stroke-width="1" stroke-linecap="butt"/>
<line x1="657.5" y1="153.2" x2="657.5" y2="154.7" stroke="#000" stroke-width="1" stroke-linecap="butt"/>
<text x="589.2" y="179.2" font-size="12.6" font-weight="bold" text-anchor="middle" fill="#000" font-family='"Liberation Sans", sans-serif'>B (T)</text>
<text transform="translate(471.6 76.8) rotate(-90)" text-anchor="middle" font-family='"Liberation Sans", sans-serif' font-size="12.9"><tspan font-weight="bold">R</tspan><tspan> (&#937;)</tspan></text>
<text x="659.54" y="15.94" font-size="14.15" font-weight="bold" font-family='"Liberation Sans", sans-serif' textLength="3.42" lengthAdjust="spacingAndGlyphs">(</text>
<text x="671.24" y="15.94" font-size="14.15" font-weight="bold" font-family='"Liberation Sans", sans-serif' textLength="3.54" lengthAdjust="spacingAndGlyphs">)</text>
<text x="664.13" y="15.7" font-size="12.04" font-weight="bold" font-family='"Liberation Sans", sans-serif' textLength="5.92" lengthAdjust="spacingAndGlyphs">c</text>
<line x1="495.4" y1="8.1" x2="513.5" y2="8.1" stroke="#ff1010" stroke-width="1" stroke-linecap="butt"/>
<rect x="502.8" y="6.4" width="3.4" height="3.4" fill="#ff1010"/>
<text x="516" y="11.1" font-size="8.4" font-weight="bold" text-anchor="start" fill="#000" font-family='"Liberation Sans", sans-serif'>2.0 K</text>
<line x1="495.4" y1="18.6" x2="513.5" y2="18.6" stroke="#22ee22" stroke-width="1" stroke-linecap="butt"/>
<circle cx="504.5" cy="18.6" r="1.9" fill="#22ee22"/>
<text x="516" y="21.6" font-size="8.4" font-weight="bold" text-anchor="start" fill="#000" font-family='"Liberation Sans", sans-serif'>3.0 K</text>
<line x1="495.4" y1="29.1" x2="513.5" y2="29.1" stroke="#1010ff" stroke-width="1" stroke-linecap="butt"/>
<polygon points="504.5,26.92 502.41,30.62 506.59,30.62" fill="#1010ff"/>
<text x="516" y="32.1" font-size="8.4" font-weight="bold" text-anchor="start" fill="#000" font-family='"Liberation Sans", sans-serif'>4.0 K</text>
<line x1="620.8" y1="11" x2="620.8" y2="58.9" stroke="#000" stroke-width="0.9" stroke-linecap="butt" stroke-dasharray="2.2 1.8"/>
<polygon points="620.8,8.2 619.3,12.2 622.3,12.2" fill="#000" stroke="none" stroke-width="0"/>
<line x1="603.3" y1="59.3" x2="672.3" y2="59.3" stroke="#000" stroke-width="0.9" stroke-linecap="butt" stroke-dasharray="1.4 2.2"/>
<text x="612.8" y="45.4" font-size="8.6" font-weight="normal" text-anchor="middle" fill="#000" font-family='"Liberation Serif", serif'>&#916;R</text>
<rect x="578.4" y="65" width="87.39999999999998" height="70.30000000000001" fill="#fff" stroke="none"/>
<rect x="585.3" y="110.78" width="3.8" height="3.8" fill="#555555"/>
<rect x="594.05" y="113.16" width="3.8" height="3.8" fill="#555555"/>
<rect x="602.8" y="115.25" width="3.8" height="3.8" fill="#555555"/>
<rect x="611.55" y="117.92" width="3.8" height="3.8" fill="#555555"/>
<rect x="620.3" y="121.2" width="3.8" height="3.8" fill="#555555"/>
<rect x="629.05" y="123.58" width="3.8" height="3.8" fill="#555555"/>
<rect x="637.8" y="126.25" width="3.8" height="3.8" fill="#555555"/>
<rect x="646.55" y="128.04" width="3.8" height="3.8" fill="#555555"/>
<rect x="655.3" y="130.42" width="3.8" height="3.8" fill="#555555"/>
<rect x="585.3" y="72.11" width="3.8" height="3.8" fill="#0a0aff"/>
<rect x="594.05" y="73.6" width="3.8" height="3.8" fill="#0a0aff"/>
<rect x="602.8" y="74.79" width="3.8" height="3.8" fill="#0a0aff"/>
<rect x="611.55" y="82.22" width="3.8" height="3.8" fill="#0a0aff"/>
<rect x="620.3" y="86.39" width="3.8" height="3.8" fill="#0a0aff"/>
<rect x="629.05" y="96.5" width="3.8" height="3.8" fill="#0a0aff"/>
<rect x="637.8" y="104.83" width="3.8" height="3.8" fill="#0a0aff"/>
<rect x="646.55" y="114.95" width="3.8" height="3.8" fill="#0a0aff"/>
<rect x="655.3" y="125.66" width="3.8" height="3.8" fill="#0a0aff"/>
<polygon points="587.2,107.59 584.89,111.69 589.51,111.69" fill="#ff0000"/>
<polygon points="622.2,119.79 619.89,123.88 624.51,123.88" fill="#ff0000"/>
<polygon points="657.2,130.2 654.89,134.29 659.51,134.29" fill="#ff0000"/>
<polygon points="587.2,67.5 587.85,69.25 589.71,69.33 588.25,70.48 588.75,72.28 587.2,71.24 585.65,72.28 586.15,70.48 584.69,69.33 586.55,69.25" fill="#ff22ff"/>
<polygon points="622.2,86.84 622.85,88.59 624.71,88.66 623.25,89.82 623.75,91.62 622.2,90.58 620.65,91.62 621.15,89.82 619.69,88.66 621.55,88.59" fill="#ff22ff"/>
<polygon points="657.2,129.38 657.85,131.13 659.71,131.21 658.25,132.36 658.75,134.16 657.2,133.12 655.65,134.16 656.15,132.36 654.69,131.21 656.55,131.13" fill="#ff22ff"/>
<rect x="633.8" y="65.4" width="31.8" height="35.8" fill="none" stroke="#cfcfcf" stroke-width="0.8"/>
<rect x="636.5" y="69.4" width="2.8" height="2.8" fill="#555"/>
<text x="641.2" y="73.3" font-size="7" font-weight="bold" text-anchor="start" fill="#000" font-family='"Liberation Sans", sans-serif' textLength="23.4" lengthAdjust="spacingAndGlyphs">JL1 &#916;B</text>
<rect x="636.5" y="78.4" width="2.8" height="2.8" fill="#0a0aff"/>
<text x="641.2" y="82.3" font-size="7" font-weight="bold" text-anchor="start" fill="#000" font-family='"Liberation Sans", sans-serif' textLength="23.4" lengthAdjust="spacingAndGlyphs">JL1 &#916;R</text>
<polygon points="637.9,86.84 636.03,90.16 639.77,90.16" fill="#ff0000"/>
<text x="641.2" y="91.3" font-size="7" font-weight="bold" text-anchor="start" fill="#000" font-family='"Liberation Sans", sans-serif' textLength="23.4" lengthAdjust="spacingAndGlyphs">JL2 &#916;B</text>
<polygon points="637.9,95.76 638.4,97.11 639.84,97.17 638.71,98.06 639.1,99.45 637.9,98.65 636.7,99.45 637.09,98.06 635.96,97.17 637.4,97.11" fill="#ff22ff"/>
<text x="641.2" y="100.3" font-size="7" font-weight="bold" text-anchor="start" fill="#000" font-family='"Liberation Sans", sans-serif' textLength="23.4" lengthAdjust="spacingAndGlyphs">JL2 &#916;R</text>
<path d="M578.4 135.3 V65 H665.8" fill="none" stroke="#707070" stroke-width="1.1"/>
<line x1="578.4" y1="135.3" x2="665.8" y2="135.3" stroke="#707070" stroke-width="1.1" stroke-linecap="butt"/>
<line x1="665.8" y1="64.5" x2="665.8" y2="135.8" stroke="#ff0000" stroke-width="1.1" stroke-linecap="butt"/>
<line x1="576.6" y1="134.7" x2="578.4" y2="134.7" stroke="#555" stroke-width="0.9" stroke-linecap="butt"/>
<text x="576.3" y="137.6" font-size="8.2" font-weight="bold" text-anchor="end" fill="#000" font-family='"Liberation Sans", sans-serif'>0</text>
<line x1="576.6" y1="122.8" x2="578.4" y2="122.8" stroke="#555" stroke-width="0.9" stroke-linecap="butt"/>
<text x="576.3" y="125.7" font-size="8.2" font-weight="bold" text-anchor="end" fill="#000" font-family='"Liberation Sans", sans-serif'>2</text>
<line x1="576.6" y1="110.9" x2="578.4" y2="110.9" stroke="#555" stroke-width="0.9" stroke-linecap="butt"/>
<text x="576.3" y="113.8" font-size="8.2" font-weight="bold" text-anchor="end" fill="#000" font-family='"Liberation Sans", sans-serif'>4</text>
<line x1="576.6" y1="99" x2="578.4" y2="99" stroke="#555" stroke-width="0.9" stroke-linecap="butt"/>
<text x="576.3" y="101.9" font-size="8.2" font-weight="bold" text-anchor="end" fill="#000" font-family='"Liberation Sans", sans-serif'>6</text>
<line x1="576.6" y1="87.1" x2="578.4" y2="87.1" stroke="#555" stroke-width="0.9" stroke-linecap="butt"/>
<text x="576.3" y="90" font-size="8.2" font-weight="bold" text-anchor="end" fill="#000" font-family='"Liberation Sans", sans-serif'>8</text>
<line x1="576.6" y1="75.2" x2="578.4" y2="75.2" stroke="#555" stroke-width="0.9" stroke-linecap="butt"/>
<text x="576.3" y="78.1" font-size="8.2" font-weight="bold" text-anchor="end" fill="#000" font-family='"Liberation Sans", sans-serif'>10</text>
<line x1="577.4" y1="128.75" x2="578.4" y2="128.75" stroke="#555" stroke-width="0.8" stroke-linecap="butt"/>
<line x1="577.4" y1="116.85" x2="578.4" y2="116.85" stroke="#555" stroke-width="0.8" stroke-linecap="butt"/>
<line x1="577.4" y1="104.95" x2="578.4" y2="104.95" stroke="#555" stroke-width="0.8" stroke-linecap="butt"/>
<line x1="577.4" y1="93.05" x2="578.4" y2="93.05" stroke="#555" stroke-width="0.8" stroke-linecap="butt"/>
<line x1="577.4" y1="81.15" x2="578.4" y2="81.15" stroke="#555" stroke-width="0.8" stroke-linecap="butt"/>
<line x1="665.8" y1="134.1" x2="667.6" y2="134.1" stroke="#ff0000" stroke-width="0.9" stroke-linecap="butt"/>
<text x="667.8" y="137" font-size="8.2" font-weight="bold" text-anchor="start" fill="#ff0000" font-family='"Liberation Sans", sans-serif'>0</text>
<line x1="665.8" y1="121.38" x2="667.6" y2="121.38" stroke="#ff0000" stroke-width="0.9" stroke-linecap="butt"/>
<text x="667.8" y="124.28" font-size="8.2" font-weight="bold" text-anchor="start" fill="#ff0000" font-family='"Liberation Sans", sans-serif'>2</text>
<line x1="665.8" y1="108.66" x2="667.6" y2="108.66" stroke="#ff0000" stroke-width="0.9" stroke-linecap="butt"/>
<text x="667.8" y="111.56" font-size="8.2" font-weight="bold" text-anchor="start" fill="#ff0000" font-family='"Liberation Sans", sans-serif'>4</text>
<line x1="665.8" y1="95.94" x2="667.6" y2="95.94" stroke="#ff0000" stroke-width="0.9" stroke-linecap="butt"/>
<text x="667.8" y="98.84" font-size="8.2" font-weight="bold" text-anchor="start" fill="#ff0000" font-family='"Liberation Sans", sans-serif'>6</text>
<line x1="665.8" y1="83.22" x2="667.6" y2="83.22" stroke="#ff0000" stroke-width="0.9" stroke-linecap="butt"/>
<text x="667.8" y="86.12" font-size="8.2" font-weight="bold" text-anchor="start" fill="#ff0000" font-family='"Liberation Sans", sans-serif'>8</text>
<line x1="665.8" y1="70.5" x2="667.6" y2="70.5" stroke="#ff0000" stroke-width="0.9" stroke-linecap="butt"/>
<text x="667.8" y="73.4" font-size="8.2" font-weight="bold" text-anchor="start" fill="#ff0000" font-family='"Liberation Sans", sans-serif'>10</text>
<line x1="665.8" y1="127.74" x2="666.8" y2="127.74" stroke="#ff0000" stroke-width="0.8" stroke-linecap="butt"/>
<line x1="665.8" y1="115.02" x2="666.8" y2="115.02" stroke="#ff0000" stroke-width="0.8" stroke-linecap="butt"/>
<line x1="665.8" y1="102.3" x2="666.8" y2="102.3" stroke="#ff0000" stroke-width="0.8" stroke-linecap="butt"/>
<line x1="665.8" y1="89.58" x2="666.8" y2="89.58" stroke="#ff0000" stroke-width="0.8" stroke-linecap="butt"/>
<line x1="665.8" y1="76.86" x2="666.8" y2="76.86" stroke="#ff0000" stroke-width="0.8" stroke-linecap="butt"/>
<line x1="587.2" y1="135.3" x2="587.2" y2="137.1" stroke="#555" stroke-width="0.9" stroke-linecap="butt"/>
<text x="587.2" y="144.6" font-size="8.2" font-weight="bold" text-anchor="middle" fill="#000" font-family='"Liberation Sans", sans-serif'>2.0</text>
<line x1="604.7" y1="135.3" x2="604.7" y2="137.1" stroke="#555" stroke-width="0.9" stroke-linecap="butt"/>
<text x="604.7" y="144.6" font-size="8.2" font-weight="bold" text-anchor="middle" fill="#000" font-family='"Liberation Sans", sans-serif'>2.5</text>
<line x1="622.2" y1="135.3" x2="622.2" y2="137.1" stroke="#555" stroke-width="0.9" stroke-linecap="butt"/>
<text x="622.2" y="144.6" font-size="8.2" font-weight="bold" text-anchor="middle" fill="#000" font-family='"Liberation Sans", sans-serif'>3.0</text>
<line x1="639.7" y1="135.3" x2="639.7" y2="137.1" stroke="#555" stroke-width="0.9" stroke-linecap="butt"/>
<text x="639.7" y="144.6" font-size="8.2" font-weight="bold" text-anchor="middle" fill="#000" font-family='"Liberation Sans", sans-serif'>3.5</text>
<line x1="657.2" y1="135.3" x2="657.2" y2="137.1" stroke="#555" stroke-width="0.9" stroke-linecap="butt"/>
<text x="657.2" y="144.6" font-size="8.2" font-weight="bold" text-anchor="middle" fill="#000" font-family='"Liberation Sans", sans-serif'>4.0</text>
<line x1="595.95" y1="135.3" x2="595.95" y2="136.3" stroke="#555" stroke-width="0.8" stroke-linecap="butt"/>
<line x1="613.45" y1="135.3" x2="613.45" y2="136.3" stroke="#555" stroke-width="0.8" stroke-linecap="butt"/>
<line x1="630.95" y1="135.3" x2="630.95" y2="136.3" stroke="#555" stroke-width="0.8" stroke-linecap="butt"/>
<line x1="648.45" y1="135.3" x2="648.45" y2="136.3" stroke="#555" stroke-width="0.8" stroke-linecap="butt"/>
<text x="621.2" y="150.3" font-size="7.8" font-weight="bold" text-anchor="middle" fill="#000" font-family='"Liberation Sans", sans-serif'>T (K)</text>
<text transform="translate(570.5 102.1) rotate(-90)" text-anchor="middle" font-family='"Liberation Sans", sans-serif' font-size="8.3"><tspan font-weight="bold">&#916;R</tspan><tspan> (&#937;)</tspan></text>
<text transform="translate(676.7 102) rotate(90)" text-anchor="middle" fill="#ff0000" font-family='"Liberation Sans", sans-serif' font-size="8.2"><tspan font-weight="bold">&#916;B</tspan><tspan> (T)</tspan></text>
<polyline points="48.2,341.8 51.3,342.5 54.5,343.3 57.6,342.9 60.8,341.8 63.9,341.2 67.1,340.4 70.3,339.7 73.4,339.1 76.6,338.3 79.7,337 82.9,335.5 86.1,334.5 89.2,333.4 92.4,332.4 95.5,331.3 98.7,329.8 101.8,328.6 105,327.7 108.2,327.1 111.3,326.5 114.5,325.6 117.6,322.9 120.8,321.4 123.9,320.9 126.3,320.7 129.5,320.1 132.6,319.5 135.8,318.8 138.9,318 142.1,317.4 145.3,316.5 148.4,315.7 151.6,314.2 154.7,312.1 157.9,310.6 161.1,309.4 164.2,307.9 167.4,306.4 170.5,304.7 173.7,303.1 176.4,300.5 178.9,298 181.5,295.3 183.8,292.1 186.3,287.9 188.4,284.1 190.5,280.5 191.6,276.3 193.3,272.1 194.7,266.8 196.2,263.7 197.5,259.5 198.9,254.2 199.8,252.6 201.3,246 202.8,240.1 204.3,232 205.9,224.1 207.1,214 208.3,204.7 209,198.8" fill="none" stroke="#3ff03f" stroke-width="1.6" stroke-linejoin="round" stroke-linecap="round"/>
<rect x="46" y="339.6" width="4.4" height="4.4" fill="#3ff03f"/>
<rect x="49.1" y="340.3" width="4.4" height="4.4" fill="#3ff03f"/>
<rect x="52.3" y="341.1" width="4.4" height="4.4" fill="#3ff03f"/>
<rect x="55.4" y="340.7" width="4.4" height="4.4" fill="#3ff03f"/>
<rect x="58.6" y="339.6" width="4.4" height="4.4" fill="#3ff03f"/>
<rect x="61.7" y="339" width="4.4" height="4.4" fill="#3ff03f"/>
<rect x="64.9" y="338.2" width="4.4" height="4.4" fill="#3ff03f"/>
<rect x="68.1" y="337.5" width="4.4" height="4.4" fill="#3ff03f"/>
<rect x="71.2" y="336.9" width="4.4" height="4.4" fill="#3ff03f"/>
<rect x="74.4" y="336.1" width="4.4" height="4.4" fill="#3ff03f"/>
<rect x="77.5" y="334.8" width="4.4" height="4.4" fill="#3ff03f"/>
<rect x="80.7" y="333.3" width="4.4" height="4.4" fill="#3ff03f"/>
<rect x="83.9" y="332.3" width="4.4" height="4.4" fill="#3ff03f"/>
<rect x="87" y="331.2" width="4.4" height="4.4" fill="#3ff03f"/>
<rect x="90.2" y="330.2" width="4.4" height="4.4" fill="#3ff03f"/>
<rect x="93.3" y="329.1" width="4.4" height="4.4" fill="#3ff03f"/>
<rect x="96.5" y="327.6" width="4.4" height="4.4" fill="#3ff03f"/>
<rect x="99.6" y="326.4" width="4.4" height="4.4" fill="#3ff03f"/>
<rect x="102.8" y="325.5" width="4.4" height="4.4" fill="#3ff03f"/>
<rect x="106" y="324.9" width="4.4" height="4.4" fill="#3ff03f"/>
<rect x="109.1" y="324.3" width="4.4" height="4.4" fill="#3ff03f"/>
<rect x="112.3" y="323.4" width="4.4" height="4.4" fill="#3ff03f"/>
<rect x="115.4" y="320.7" width="4.4" height="4.4" fill="#3ff03f"/>
<rect x="118.6" y="319.2" width="4.4" height="4.4" fill="#3ff03f"/>
<rect x="121.7" y="318.7" width="4.4" height="4.4" fill="#3ff03f"/>
<rect x="124.1" y="318.5" width="4.4" height="4.4" fill="#3ff03f"/>
<rect x="127.3" y="317.9" width="4.4" height="4.4" fill="#3ff03f"/>
<rect x="130.4" y="317.3" width="4.4" height="4.4" fill="#3ff03f"/>
<rect x="133.6" y="316.6" width="4.4" height="4.4" fill="#3ff03f"/>
<rect x="136.7" y="315.8" width="4.4" height="4.4" fill="#3ff03f"/>
<rect x="139.9" y="315.2" width="4.4" height="4.4" fill="#3ff03f"/>
<rect x="143.1" y="314.3" width="4.4" height="4.4" fill="#3ff03f"/>
<rect x="146.2" y="313.5" width="4.4" height="4.4" fill="#3ff03f"/>
<rect x="149.4" y="312" width="4.4" height="4.4" fill="#3ff03f"/>
<rect x="152.5" y="309.9" width="4.4" height="4.4" fill="#3ff03f"/>
<rect x="155.7" y="308.4" width="4.4" height="4.4" fill="#3ff03f"/>
<rect x="158.9" y="307.2" width="4.4" height="4.4" fill="#3ff03f"/>
<rect x="162" y="305.7" width="4.4" height="4.4" fill="#3ff03f"/>
<rect x="165.2" y="304.2" width="4.4" height="4.4" fill="#3ff03f"/>
<rect x="168.3" y="302.5" width="4.4" height="4.4" fill="#3ff03f"/>
<rect x="171.5" y="300.9" width="4.4" height="4.4" fill="#3ff03f"/>
<rect x="174.2" y="298.3" width="4.4" height="4.4" fill="#3ff03f"/>
<rect x="176.7" y="295.8" width="4.4" height="4.4" fill="#3ff03f"/>
<rect x="179.3" y="293.1" width="4.4" height="4.4" fill="#3ff03f"/>
<rect x="181.6" y="289.9" width="4.4" height="4.4" fill="#3ff03f"/>
<rect x="184.1" y="285.7" width="4.4" height="4.4" fill="#3ff03f"/>
<rect x="186.2" y="281.9" width="4.4" height="4.4" fill="#3ff03f"/>
<rect x="188.3" y="278.3" width="4.4" height="4.4" fill="#3ff03f"/>
<rect x="189.4" y="274.1" width="4.4" height="4.4" fill="#3ff03f"/>
<rect x="191.1" y="269.9" width="4.4" height="4.4" fill="#3ff03f"/>
<rect x="192.5" y="264.6" width="4.4" height="4.4" fill="#3ff03f"/>
<rect x="194" y="261.5" width="4.4" height="4.4" fill="#3ff03f"/>
<rect x="195.3" y="257.3" width="4.4" height="4.4" fill="#3ff03f"/>
<rect x="196.7" y="252" width="4.4" height="4.4" fill="#3ff03f"/>
<rect x="200.6" y="237.9" width="4.4" height="4.4" fill="#3ff03f"/>
<rect x="203.7" y="221.9" width="4.4" height="4.4" fill="#3ff03f"/>
<rect x="206.1" y="202.5" width="4.4" height="4.4" fill="#3ff03f"/>
<polyline points="49.6,332.4 53,332.4 55.9,332.6 59.3,332.4 62.3,331.3 65,329.8 68.2,327.7 70.7,325.6 73.4,322.9 76.6,318.7 79.3,314.1 82.5,308.2 85,303.9 88.2,299.1 90.9,296.2 93.8,291.3 96.6,286.1 99.3,280.8 102.9,276.6 106.1,269.2 108.8,260.7 111.5,250.2 114.5,231.8 117.6,211.8 118.8,198.8" fill="none" stroke="#9a3cf5" stroke-width="1.6" stroke-linejoin="round" stroke-linecap="round"/>
<circle cx="49.6" cy="332.4" r="2.4" fill="#9a3cf5"/>
<circle cx="53" cy="332.4" r="2.4" fill="#9a3cf5"/>
<circle cx="55.9" cy="332.6" r="2.4" fill="#9a3cf5"/>
<circle cx="59.3" cy="332.4" r="2.4" fill="#9a3cf5"/>
<circle cx="62.3" cy="331.3" r="2.4" fill="#9a3cf5"/>
<circle cx="65" cy="329.8" r="2.4" fill="#9a3cf5"/>
<circle cx="68.2" cy="327.7" r="2.4" fill="#9a3cf5"/>
<circle cx="70.7" cy="325.6" r="2.4" fill="#9a3cf5"/>
<circle cx="73.4" cy="322.9" r="2.4" fill="#9a3cf5"/>
<circle cx="76.6" cy="318.7" r="2.4" fill="#9a3cf5"/>
<circle cx="79.3" cy="314.1" r="2.4" fill="#9a3cf5"/>
<circle cx="82.5" cy="308.2" r="2.4" fill="#9a3cf5"/>
<circle cx="85" cy="303.9" r="2.4" fill="#9a3cf5"/>
<circle cx="88.2" cy="299.1" r="2.4" fill="#9a3cf5"/>
<circle cx="90.9" cy="296.2" r="2.4" fill="#9a3cf5"/>
<circle cx="93.8" cy="291.3" r="2.4" fill="#9a3cf5"/>
<circle cx="96.6" cy="286.1" r="2.4" fill="#9a3cf5"/>
<circle cx="99.3" cy="280.8" r="2.4" fill="#9a3cf5"/>
<circle cx="102.9" cy="276.6" r="2.4" fill="#9a3cf5"/>
<circle cx="106.1" cy="269.2" r="2.4" fill="#9a3cf5"/>
<circle cx="108.8" cy="260.7" r="2.4" fill="#9a3cf5"/>
<circle cx="111.5" cy="250.2" r="2.4" fill="#9a3cf5"/>
<circle cx="114.5" cy="231.8" r="2.4" fill="#9a3cf5"/>
<circle cx="117.6" cy="211.8" r="2.4" fill="#9a3cf5"/>
<rect x="31.7" y="198.1" width="190.3" height="151.9" fill="none" stroke="#000" stroke-width="1.6"/>
<line x1="29.4" y1="347.4" x2="31.7" y2="347.4" stroke="#000" stroke-width="1.2" stroke-linecap="butt"/>
<text x="0" y="0" font-size="12.3" font-weight="bold" text-anchor="end" fill="#000" font-family='"Liberation Sans", sans-serif' transform="translate(26.5 351.5) scale(1 1.12)">0</text>
<line x1="29.4" y1="320.15" x2="31.7" y2="320.15" stroke="#000" stroke-width="1.2" stroke-linecap="butt"/>
<text x="0" y="0" font-size="12.3" font-weight="bold" text-anchor="end" fill="#000" font-family='"Liberation Sans", sans-serif' transform="translate(26.5 324.25) scale(1 1.12)">10</text>
<line x1="29.4" y1="292.9" x2="31.7" y2="292.9" stroke="#000" stroke-width="1.2" stroke-linecap="butt"/>
<text x="0" y="0" font-size="12.3" font-weight="bold" text-anchor="end" fill="#000" font-family='"Liberation Sans", sans-serif' transform="translate(26.5 297) scale(1 1.12)">20</text>
<line x1="29.4" y1="265.65" x2="31.7" y2="265.65" stroke="#000" stroke-width="1.2" stroke-linecap="butt"/>
<text x="0" y="0" font-size="12.3" font-weight="bold" text-anchor="end" fill="#000" font-family='"Liberation Sans", sans-serif' transform="translate(26.5 269.75) scale(1 1.12)">30</text>
<line x1="29.4" y1="238.4" x2="31.7" y2="238.4" stroke="#000" stroke-width="1.2" stroke-linecap="butt"/>
<text x="0" y="0" font-size="12.3" font-weight="bold" text-anchor="end" fill="#000" font-family='"Liberation Sans", sans-serif' transform="translate(26.5 242.5) scale(1 1.12)">40</text>
<line x1="29.4" y1="211.15" x2="31.7" y2="211.15" stroke="#000" stroke-width="1.2" stroke-linecap="butt"/>
<text x="0" y="0" font-size="12.3" font-weight="bold" text-anchor="end" fill="#000" font-family='"Liberation Sans", sans-serif' transform="translate(26.5 215.25) scale(1 1.12)">50</text>
<line x1="30.2" y1="333.77" x2="31.7" y2="333.77" stroke="#000" stroke-width="1" stroke-linecap="butt"/>
<line x1="30.2" y1="306.52" x2="31.7" y2="306.52" stroke="#000" stroke-width="1" stroke-linecap="butt"/>
<line x1="30.2" y1="279.27" x2="31.7" y2="279.27" stroke="#000" stroke-width="1" stroke-linecap="butt"/>
<line x1="30.2" y1="252.02" x2="31.7" y2="252.02" stroke="#000" stroke-width="1" stroke-linecap="butt"/>
<line x1="30.2" y1="224.77" x2="31.7" y2="224.77" stroke="#000" stroke-width="1" stroke-linecap="butt"/>
<line x1="48" y1="350" x2="48" y2="352.3" stroke="#000" stroke-width="1.2" stroke-linecap="butt"/>
<text x="0" y="0" font-size="12.2" font-weight="bold" text-anchor="middle" fill="#000" font-family='"Liberation Sans", sans-serif' transform="translate(48 365.3) scale(1 1.12)">0</text>
<line x1="100.6" y1="350" x2="100.6" y2="352.3" stroke="#000" stroke-width="1.2" stroke-linecap="butt"/>
<text x="0" y="0" font-size="12.2" font-weight="bold" text-anchor="middle" fill="#000" font-family='"Liberation Sans", sans-serif' transform="translate(100.6 365.3) scale(1 1.12)">1</text>
<line x1="153.2" y1="350" x2="153.2" y2="352.3" stroke="#000" stroke-width="1.2" stroke-linecap="butt"/>
<text x="0" y="0" font-size="12.2" font-weight="bold" text-anchor="middle" fill="#000" font-family='"Liberation Sans", sans-serif' transform="translate(153.2 365.3) scale(1 1.12)">2</text>
<line x1="205.8" y1="350" x2="205.8" y2="352.3" stroke="#000" stroke-width="1.2" stroke-linecap="butt"/>
<text x="0" y="0" font-size="12.2" font-weight="bold" text-anchor="middle" fill="#000" font-family='"Liberation Sans", sans-serif' transform="translate(205.8 365.3) scale(1 1.12)">3</text>
<line x1="74.3" y1="350" x2="74.3" y2="351.5" stroke="#000" stroke-width="1" stroke-linecap="butt"/>
<line x1="126.9" y1="350" x2="126.9" y2="351.5" stroke="#000" stroke-width="1" stroke-linecap="butt"/>
<line x1="179.5" y1="350" x2="179.5" y2="351.5" stroke="#000" stroke-width="1" stroke-linecap="butt"/>
<text x="120.8" y="375.8" font-size="12.6" font-weight="bold" text-anchor="middle" fill="#000" font-family='"Liberation Sans", sans-serif'>B (T)</text>
<text transform="translate(10.9 272.8) rotate(-90)" text-anchor="middle" font-family='"Liberation Sans", sans-serif' font-size="12.9"><tspan font-weight="bold">R</tspan><tspan> (&#937;)</tspan></text>
<text x="182.65" y="212.94" font-size="14.15" font-weight="bold" font-family='"Liberation Sans", sans-serif' textLength="3.31" lengthAdjust="spacingAndGlyphs">(</text>
<text x="196.14" y="212.94" font-size="14.15" font-weight="bold" font-family='"Liberation Sans", sans-serif' textLength="3.31" lengthAdjust="spacingAndGlyphs">)</text>
<text x="187.13" y="212.7" font-size="13.61" font-weight="bold" font-family='"Liberation Sans", sans-serif' textLength="7.76" lengthAdjust="spacingAndGlyphs">d</text>
<rect x="171.6" y="318.4" width="43.2" height="23.2" fill="#fff" stroke="#d8d8d8" stroke-width="0.8"/>
<line x1="172.1" y1="325.1" x2="191.5" y2="325.1" stroke="#3ff03f" stroke-width="1.6" stroke-linecap="butt"/>
<rect x="179.85" y="323.05" width="4.1" height="4.1" fill="#3ff03f"/>
<text x="193.4" y="328.1" font-size="8.4" font-weight="bold" text-anchor="start" fill="#000" font-family='"Liberation Sans", sans-serif'>2.0 K</text>
<line x1="172.1" y1="335.9" x2="191.5" y2="335.9" stroke="#9a3cf5" stroke-width="1.6" stroke-linecap="butt"/>
<circle cx="181.9" cy="335.9" r="2.2" fill="#9a3cf5"/>
<text x="193.4" y="338.9" font-size="8.4" font-weight="bold" text-anchor="start" fill="#000" font-family='"Liberation Sans", sans-serif'>3.0 K</text>
<rect x="342.25" y="285.75" width="4.7" height="4.7" fill="#000000"/>
<rect x="375.05" y="271.85" width="4.7" height="4.7" fill="#000000"/>
<rect x="398.75" y="257.15" width="4.7" height="4.7" fill="#000000"/>
<rect x="412.25" y="247.05" width="4.7" height="4.7" fill="#000000"/>
<rect x="420.25" y="238.65" width="4.7" height="4.7" fill="#000000"/>
<rect x="426.55" y="234.85" width="4.7" height="4.7" fill="#000000"/>
<rect x="431.75" y="229.85" width="4.7" height="4.7" fill="#000000"/>
<rect x="439.15" y="227.15" width="4.7" height="4.7" fill="#000000"/>
<rect x="445.45" y="228.15" width="4.7" height="4.7" fill="#000000"/>
<rect x="449.65" y="227.45" width="4.7" height="4.7" fill="#000000"/>
<rect x="450.45" y="229.25" width="4.7" height="4.7" fill="#000000"/>
<rect x="453.15" y="227.85" width="4.7" height="4.7" fill="#000000"/>
<rect x="453.15" y="226.15" width="4.7" height="4.7" fill="#000000"/>
<rect x="455.95" y="224.85" width="4.7" height="4.7" fill="#000000"/>
<rect x="458.65" y="223.65" width="4.7" height="4.7" fill="#000000"/>
<rect x="458.65" y="225.65" width="4.7" height="4.7" fill="#000000"/>
<rect x="390.65" y="300.65" width="4.7" height="4.7" fill="#000000"/>
<rect x="407.75" y="311.75" width="4.7" height="4.7" fill="#000000"/>
<rect x="416.45" y="319.65" width="4.7" height="4.7" fill="#000000"/>
<rect x="424.35" y="327.05" width="4.7" height="4.7" fill="#000000"/>
<rect x="430.25" y="336.25" width="4.7" height="4.7" fill="#000000"/>
<circle cx="348.3" cy="288.1" r="2.9" fill="#ee3b3b"/>
<circle cx="367" cy="277.1" r="2.9" fill="#ee3b3b"/>
<circle cx="393.1" cy="265.8" r="2.9" fill="#ee3b3b"/>
<circle cx="406.8" cy="255.7" r="2.9" fill="#ee3b3b"/>
<circle cx="415.2" cy="249.4" r="2.9" fill="#ee3b3b"/>
<circle cx="422.6" cy="246.3" r="2.9" fill="#ee3b3b"/>
<circle cx="431" cy="241" r="2.9" fill="#ee3b3b"/>
<circle cx="436.9" cy="235.8" r="2.9" fill="#ee3b3b"/>
<circle cx="440.4" cy="230.1" r="2.9" fill="#ee3b3b"/>
<circle cx="443.5" cy="231.5" r="2.9" fill="#ee3b3b"/>
<circle cx="446.5" cy="231" r="2.9" fill="#ee3b3b"/>
<circle cx="449.5" cy="229.5" r="2.9" fill="#ee3b3b"/>
<circle cx="452" cy="228.3" r="2.9" fill="#ee3b3b"/>
<circle cx="388.4" cy="302.1" r="2.9" fill="#ee3b3b"/>
<circle cx="403.7" cy="310.9" r="2.9" fill="#ee3b3b"/>
<circle cx="413.8" cy="317.8" r="2.9" fill="#ee3b3b"/>
<circle cx="421.9" cy="324.2" r="2.9" fill="#ee3b3b"/>
<circle cx="427.5" cy="332.5" r="2.9" fill="#ee3b3b"/>
<polygon points="287.9,284.65 284.6,290.5 291.2,290.5" fill="#1f6fe8"/>
<polygon points="375.9,274.55 372.6,280.4 379.2,280.4" fill="#1f6fe8"/>
<polygon points="394.2,266.55 390.9,272.4 397.5,272.4" fill="#1f6fe8"/>
<polygon points="405.7,260.75 402.4,266.6 409,266.6" fill="#1f6fe8"/>
<polygon points="413.7,252.75 410.4,258.6 417,258.6" fill="#1f6fe8"/>
<polygon points="420,250.15 416.7,256 423.3,256" fill="#1f6fe8"/>
<polygon points="425.1,248.05 421.8,253.9 428.4,253.9" fill="#1f6fe8"/>
<polygon points="429.5,245.55 426.2,251.4 432.8,251.4" fill="#1f6fe8"/>
<polygon points="433.1,243.85 429.8,249.7 436.4,249.7" fill="#1f6fe8"/>
<polygon points="436.9,237.55 433.6,243.4 440.2,243.4" fill="#1f6fe8"/>
<polygon points="440.4,235.45 437.1,241.3 443.7,241.3" fill="#1f6fe8"/>
<polygon points="442.5,233.35 439.2,239.2 445.8,239.2" fill="#1f6fe8"/>
<polygon points="376.4,294.95 373.1,300.8 379.7,300.8" fill="#1f6fe8"/>
<polygon points="394.9,305.05 391.6,310.9 398.2,310.9" fill="#1f6fe8"/>
<polygon points="405.9,311.55 402.6,317.4 409.2,317.4" fill="#1f6fe8"/>
<polygon points="413.8,316.15 410.5,322 417.1,322" fill="#1f6fe8"/>
<polygon points="420.1,323.55 416.8,329.4 423.4,329.4" fill="#1f6fe8"/>
<polygon points="353.2,297.65 349.9,291.8 356.5,291.8" fill="#2aa05a"/>
<polygon points="370.4,285.15 367.1,279.3 373.7,279.3" fill="#2aa05a"/>
<polygon points="396.3,272.25 393,266.4 399.6,266.4" fill="#2aa05a"/>
<polygon points="410,261.95 406.7,256.1 413.3,256.1" fill="#2aa05a"/>
<polygon points="418.8,251.85 415.5,246 422.1,246" fill="#2aa05a"/>
<polygon points="426.4,244.85 423.1,239 429.7,239" fill="#2aa05a"/>
<polygon points="431.4,249.15 428.1,243.3 434.7,243.3" fill="#2aa05a"/>
<polygon points="391.7,310.75 388.4,304.9 395,304.9" fill="#2aa05a"/>
<polygon points="406.8,319.35 403.5,313.5 410.1,313.5" fill="#2aa05a"/>
<polygon points="417.5,325.85 414.2,320 420.8,320" fill="#2aa05a"/>
<rect x="275.3" y="197.1" width="187.3" height="151.7" fill="none" stroke="#000" stroke-width="1.6"/>
<line x1="273" y1="201.3" x2="275.3" y2="201.3" stroke="#000" stroke-width="1.2" stroke-linecap="butt"/>
<text x="0" y="0" font-size="11.7" font-weight="bold" text-anchor="end" fill="#000" font-family='"Liberation Sans", sans-serif' transform="translate(268.4 205.1) scale(1 1.12)">1.20</text>
<line x1="273" y1="222.24" x2="275.3" y2="222.24" stroke="#000" stroke-width="1.2" stroke-linecap="butt"/>
<text x="0" y="0" font-size="11.7" font-weight="bold" text-anchor="end" fill="#000" font-family='"Liberation Sans", sans-serif' transform="translate(268.4 226.04) scale(1 1.12)">1.15</text>
<line x1="273" y1="243.18" x2="275.3" y2="243.18" stroke="#000" stroke-width="1.2" stroke-linecap="butt"/>
<text x="0" y="0" font-size="11.7" font-weight="bold" text-anchor="end" fill="#000" font-family='"Liberation Sans", sans-serif' transform="translate(268.4 246.98) scale(1 1.12)">1.10</text>
<line x1="273" y1="264.12" x2="275.3" y2="264.12" stroke="#000" stroke-width="1.2" stroke-linecap="butt"/>
<text x="0" y="0" font-size="11.7" font-weight="bold" text-anchor="end" fill="#000" font-family='"Liberation Sans", sans-serif' transform="translate(268.4 267.92) scale(1 1.12)">1.05</text>
<line x1="273" y1="285.06" x2="275.3" y2="285.06" stroke="#000" stroke-width="1.2" stroke-linecap="butt"/>
<text x="0" y="0" font-size="11.7" font-weight="bold" text-anchor="end" fill="#000" font-family='"Liberation Sans", sans-serif' transform="translate(268.4 288.86) scale(1 1.12)">1.00</text>
<line x1="273" y1="306" x2="275.3" y2="306" stroke="#000" stroke-width="1.2" stroke-linecap="butt"/>
<text x="0" y="0" font-size="11.7" font-weight="bold" text-anchor="end" fill="#000" font-family='"Liberation Sans", sans-serif' transform="translate(268.4 309.8) scale(1 1.12)">0.95</text>
<line x1="273" y1="326.94" x2="275.3" y2="326.94" stroke="#000" stroke-width="1.2" stroke-linecap="butt"/>
<text x="0" y="0" font-size="11.7" font-weight="bold" text-anchor="end" fill="#000" font-family='"Liberation Sans", sans-serif' transform="translate(268.4 330.74) scale(1 1.12)">0.90</text>
<line x1="273" y1="347.88" x2="275.3" y2="347.88" stroke="#000" stroke-width="1.2" stroke-linecap="butt"/>
<text x="0" y="0" font-size="11.7" font-weight="bold" text-anchor="end" fill="#000" font-family='"Liberation Sans", sans-serif' transform="translate(268.4 351.68) scale(1 1.12)">0.85</text>
<line x1="273.8" y1="211.77" x2="275.3" y2="211.77" stroke="#000" stroke-width="1" stroke-linecap="butt"/>
<line x1="273.8" y1="232.71" x2="275.3" y2="232.71" stroke="#000" stroke-width="1" stroke-linecap="butt"/>
<line x1="273.8" y1="253.65" x2="275.3" y2="253.65" stroke="#000" stroke-width="1" stroke-linecap="butt"/>
<line x1="273.8" y1="274.59" x2="275.3" y2="274.59" stroke="#000" stroke-width="1" stroke-linecap="butt"/>
<line x1="273.8" y1="295.53" x2="275.3" y2="295.53" stroke="#000" stroke-width="1" stroke-linecap="butt"/>
<line x1="273.8" y1="316.47" x2="275.3" y2="316.47" stroke="#000" stroke-width="1" stroke-linecap="butt"/>
<line x1="273.8" y1="337.41" x2="275.3" y2="337.41" stroke="#000" stroke-width="1" stroke-linecap="butt"/>
<line x1="275.5" y1="348.8" x2="275.5" y2="351.1" stroke="#000" stroke-width="1.2" stroke-linecap="butt"/>
<text x="0" y="0" font-size="12.3" font-weight="bold" text-anchor="middle" fill="#000" font-family='"Liberation Sans", sans-serif' transform="translate(275.5 362.5) scale(1 1.12)">1E-4</text>
<line x1="340" y1="348.8" x2="340" y2="351.1" stroke="#000" stroke-width="1.2" stroke-linecap="butt"/>
<text x="0" y="0" font-size="12.3" font-weight="bold" text-anchor="middle" fill="#000" font-family='"Liberation Sans", sans-serif' transform="translate(340 362.5) scale(1 1.12)">0.001</text>
<line x1="404.5" y1="348.8" x2="404.5" y2="351.1" stroke="#000" stroke-width="1.2" stroke-linecap="butt"/>
<text x="0" y="0" font-size="12.3" font-weight="bold" text-anchor="middle" fill="#000" font-family='"Liberation Sans", sans-serif' transform="translate(404.5 362.5) scale(1 1.12)">0.01</text>
<line x1="294.92" y1="348.8" x2="294.92" y2="350.2" stroke="#000" stroke-width="0.9" stroke-linecap="butt"/>
<line x1="306.27" y1="348.8" x2="306.27" y2="350.2" stroke="#000" stroke-width="0.9" stroke-linecap="butt"/>
<line x1="314.33" y1="348.8" x2="314.33" y2="350.2" stroke="#000" stroke-width="0.9" stroke-linecap="butt"/>
<line x1="320.58" y1="348.8" x2="320.58" y2="350.2" stroke="#000" stroke-width="0.9" stroke-linecap="butt"/>
<line x1="325.69" y1="348.8" x2="325.69" y2="350.2" stroke="#000" stroke-width="0.9" stroke-linecap="butt"/>
<line x1="330.01" y1="348.8" x2="330.01" y2="350.2" stroke="#000" stroke-width="0.9" stroke-linecap="butt"/>
<line x1="333.75" y1="348.8" x2="333.75" y2="350.2" stroke="#000" stroke-width="0.9" stroke-linecap="butt"/>
<line x1="337.05" y1="348.8" x2="337.05" y2="350.2" stroke="#000" stroke-width="0.9" stroke-linecap="butt"/>
<line x1="359.42" y1="348.8" x2="359.42" y2="350.2" stroke="#000" stroke-width="0.9" stroke-linecap="butt"/>
<line x1="370.77" y1="348.8" x2="370.77" y2="350.2" stroke="#000" stroke-width="0.9" stroke-linecap="butt"/>
<line x1="378.83" y1="348.8" x2="378.83" y2="350.2" stroke="#000" stroke-width="0.9" stroke-linecap="butt"/>
<line x1="385.08" y1="348.8" x2="385.08" y2="350.2" stroke="#000" stroke-width="0.9" stroke-linecap="butt"/>
<line x1="390.19" y1="348.8" x2="390.19" y2="350.2" stroke="#000" stroke-width="0.9" stroke-linecap="butt"/>
<line x1="394.51" y1="348.8" x2="394.51" y2="350.2" stroke="#000" stroke-width="0.9" stroke-linecap="butt"/>
<line x1="398.25" y1="348.8" x2="398.25" y2="350.2" stroke="#000" stroke-width="0.9" stroke-linecap="butt"/>
<line x1="401.55" y1="348.8" x2="401.55" y2="350.2" stroke="#000" stroke-width="0.9" stroke-linecap="butt"/>
<line x1="423.92" y1="348.8" x2="423.92" y2="350.2" stroke="#000" stroke-width="0.9" stroke-linecap="butt"/>
<line x1="435.27" y1="348.8" x2="435.27" y2="350.2" stroke="#000" stroke-width="0.9" stroke-linecap="butt"/>
<line x1="443.33" y1="348.8" x2="443.33" y2="350.2" stroke="#000" stroke-width="0.9" stroke-linecap="butt"/>
<line x1="449.58" y1="348.8" x2="449.58" y2="350.2" stroke="#000" stroke-width="0.9" stroke-linecap="butt"/>
<line x1="454.69" y1="348.8" x2="454.69" y2="350.2" stroke="#000" stroke-width="0.9" stroke-linecap="butt"/>
<line x1="459.01" y1="348.8" x2="459.01" y2="350.2" stroke="#000" stroke-width="0.9" stroke-linecap="butt"/>
<text x="309.6" y="374.5" font-family='"Liberation Sans", sans-serif' font-size="12" font-weight="bold">|B-B<tspan font-size="8.9" dy="3.8">C</tspan><tspan dy="-3.8">|/T</tspan><tspan font-size="8.5" dy="-5">1/Z<tspan font-weight="normal">&#957;</tspan></tspan><tspan dy="5"> (T/K</tspan><tspan font-size="8.5" dy="-5">1/Z<tspan font-weight="normal">&#957;</tspan></tspan><tspan dy="5">)</tspan></text>
<text transform="translate(243 285.2) rotate(-90)" font-family='"Liberation Sans", sans-serif' font-size="13" font-weight="bold"><tspan textLength="23.2" lengthAdjust="spacingAndGlyphs">R/R</tspan><tspan font-size="8.6" dy="3.4">C</tspan></text>
<text x="442.35" y="212.9" font-size="14.36" font-weight="bold" font-family='"Liberation Sans", sans-serif' textLength="3.31" lengthAdjust="spacingAndGlyphs">(</text>
<text x="455.14" y="212.9" font-size="14.36" font-weight="bold" font-family='"Liberation Sans", sans-serif' textLength="3.31" lengthAdjust="spacingAndGlyphs">)</text>
<text x="446.86" y="212.9" font-size="14.23" font-weight="bold" font-family='"Liberation Sans", sans-serif' textLength="7.02" lengthAdjust="spacingAndGlyphs">e</text>
<rect x="310.3" y="301.4" width="45.3" height="43.9" fill="#fff" stroke="#d4d4d4" stroke-width="0.8"/>
<rect x="316.8" y="306.4" width="4.4" height="4.4" fill="#000000"/>
<text x="328.9" y="311.7" font-size="8.4" font-weight="bold" text-anchor="start" fill="#000" font-family='"Liberation Sans", sans-serif'>2.75 K</text>
<circle cx="319" cy="319" r="2.9" fill="#ee3b3b"/>
<text x="328.9" y="322.1" font-size="8.4" font-weight="bold" text-anchor="start" fill="#000" font-family='"Liberation Sans", sans-serif'>3K</text>
<polygon points="319,325.95 315.7,331.8 322.3,331.8" fill="#1f6fe8"/>
<text x="328.9" y="332.5" font-size="8.4" font-weight="bold" text-anchor="start" fill="#000" font-family='"Liberation Sans", sans-serif'>3.25 K</text>
<polygon points="319,343.25 315.7,337.4 322.3,337.4" fill="#2aa05a"/>
<text x="328.9" y="342.9" font-size="8.4" font-weight="bold" text-anchor="start" fill="#000" font-family='"Liberation Sans", sans-serif'>3.5K</text>
<rect x="278.6" y="199.6" width="73.79999999999995" height="58.599999999999994" fill="#fff"/>
<line x1="277.3" y1="198.2" x2="277.3" y2="258.6" stroke="#a8a8a8" stroke-width="2" stroke-linecap="butt"/>
<line x1="276.3" y1="198.7" x2="352.6" y2="198.7" stroke="#a8a8a8" stroke-width="1.4" stroke-linecap="butt"/>
<line x1="278.6" y1="199.3" x2="278.6" y2="258.2" stroke="#333" stroke-width="0.9" stroke-linecap="butt"/>
<line x1="278.6" y1="199.6" x2="352.4" y2="199.6" stroke="#555" stroke-width="0.8" stroke-linecap="butt"/>
<line x1="352.4" y1="199.1" x2="352.4" y2="258.7" stroke="#222" stroke-width="1.1" stroke-linecap="butt"/>
<line x1="278.2" y1="258.2" x2="352.9" y2="258.2" stroke="#222" stroke-width="1.1" stroke-linecap="butt"/>
<line x1="288.1" y1="250.1" x2="349.1" y2="201.2" stroke="#ff3030" stroke-width="1.1" stroke-linecap="butt"/>
<circle cx="287.5" cy="250.6" r="2.1" fill="#222"/>
<circle cx="286.9" cy="250.0" r="0.7" fill="#aaa"/>
<circle cx="306" cy="233.5" r="2.1" fill="#222"/>
<circle cx="305.4" cy="232.9" r="0.7" fill="#aaa"/>
<circle cx="325.9" cy="222.8" r="2.1" fill="#222"/>
<circle cx="325.29999999999995" cy="222.20000000000002" r="0.7" fill="#aaa"/>
<circle cx="347.7" cy="202.7" r="2.1" fill="#222"/>
<circle cx="347.09999999999997" cy="202.1" r="0.7" fill="#aaa"/>
<line x1="282.5" y1="258.2" x2="282.5" y2="259.7" stroke="#222" stroke-width="0.8" stroke-linecap="butt"/>
<text x="282.5" y="265.4" font-size="6.6" font-weight="bold" text-anchor="middle" fill="#000" font-family='"Liberation Sans", sans-serif'>0.28</text>
<line x1="299.88" y1="258.2" x2="299.88" y2="259.7" stroke="#222" stroke-width="0.8" stroke-linecap="butt"/>
<text x="299.88" y="265.4" font-size="6.6" font-weight="bold" text-anchor="middle" fill="#000" font-family='"Liberation Sans", sans-serif'>0.3</text>
<line x1="316.14" y1="258.2" x2="316.14" y2="259.7" stroke="#222" stroke-width="0.8" stroke-linecap="butt"/>
<text x="316.14" y="265.4" font-size="6.6" font-weight="bold" text-anchor="middle" fill="#000" font-family='"Liberation Sans", sans-serif'>0.32</text>
<line x1="331.41" y1="258.2" x2="331.41" y2="259.7" stroke="#222" stroke-width="0.8" stroke-linecap="butt"/>
<text x="331.41" y="265.4" font-size="6.6" font-weight="bold" text-anchor="middle" fill="#000" font-family='"Liberation Sans", sans-serif'>0.34</text>
<line x1="345.8" y1="258.2" x2="345.8" y2="259.7" stroke="#222" stroke-width="0.8" stroke-linecap="butt"/>
<text x="345.8" y="265.4" font-size="6.6" font-weight="bold" text-anchor="middle" fill="#000" font-family='"Liberation Sans", sans-serif'>0.36</text>
<line x1="352.4" y1="251.52" x2="353.9" y2="251.52" stroke="#222" stroke-width="0.8" stroke-linecap="butt"/>
<text x="354.4" y="253.92" font-size="6.8" font-weight="bold" text-anchor="start" fill="#000" font-family='"Liberation Sans", sans-serif'>12</text>
<line x1="352.4" y1="238.8" x2="353.9" y2="238.8" stroke="#222" stroke-width="0.8" stroke-linecap="butt"/>
<text x="354.4" y="241.2" font-size="6.8" font-weight="bold" text-anchor="start" fill="#000" font-family='"Liberation Sans", sans-serif'>14</text>
<line x1="352.4" y1="227.78" x2="353.9" y2="227.78" stroke="#222" stroke-width="0.8" stroke-linecap="butt"/>
<text x="354.4" y="230.18" font-size="6.8" font-weight="bold" text-anchor="start" fill="#000" font-family='"Liberation Sans", sans-serif'>16</text>
<line x1="352.4" y1="218.06" x2="353.9" y2="218.06" stroke="#222" stroke-width="0.8" stroke-linecap="butt"/>
<text x="354.4" y="220.46" font-size="6.8" font-weight="bold" text-anchor="start" fill="#000" font-family='"Liberation Sans", sans-serif'>18</text>
<line x1="352.4" y1="209.36" x2="353.9" y2="209.36" stroke="#222" stroke-width="0.8" stroke-linecap="butt"/>
<text x="354.4" y="211.76" font-size="6.8" font-weight="bold" text-anchor="start" fill="#000" font-family='"Liberation Sans", sans-serif'>20</text>
<line x1="352.4" y1="201.5" x2="353.9" y2="201.5" stroke="#222" stroke-width="0.8" stroke-linecap="butt"/>
<text x="354.4" y="203.9" font-size="6.8" font-weight="bold" text-anchor="start" fill="#000" font-family='"Liberation Sans", sans-serif'>22</text>
<line x1="352.4" y1="244.91" x2="353.3" y2="244.91" stroke="#222" stroke-width="0.7" stroke-linecap="butt"/>
<line x1="352.4" y1="233.1" x2="353.3" y2="233.1" stroke="#222" stroke-width="0.7" stroke-linecap="butt"/>
<line x1="352.4" y1="222.78" x2="353.3" y2="222.78" stroke="#222" stroke-width="0.7" stroke-linecap="butt"/>
<line x1="352.4" y1="213.6" x2="353.3" y2="213.6" stroke="#222" stroke-width="0.7" stroke-linecap="butt"/>
<line x1="352.4" y1="205.34" x2="353.3" y2="205.34" stroke="#222" stroke-width="0.7" stroke-linecap="butt"/>
<text x="301.3" y="271.4" font-size="6.7" font-weight="bold" text-anchor="start" fill="#000" font-family='"Liberation Sans", sans-serif' textLength="25.6" lengthAdjust="spacingAndGlyphs">1/T (1/K)</text>
<text transform="translate(364.1 228.9) rotate(90)" text-anchor="middle" font-family='"Liberation Sans", sans-serif' font-size="6.6" font-weight="bold">(dR/dB)|<tspan font-size="4.5" dy="1.5">Bc</tspan><tspan dy="-1.5"> (&#937;/T)</tspan></text>
<polygon points="494.5,201.5 495,202.5 513.9,219.1 533.25,235 552,252.5 571.25,269.5 591,285 609.7,300.8 628.9,316.1 648.5,330.6 667.8,342.7 679.4,349.4 681,351 683,350 494.5,350" fill="#e06af7" stroke="none" stroke-width="0"/>
<polygon points="494.5,280.7 495.2,280.7 513.7,281.4 532.7,285.4 552.1,291.8 571.3,302.7 591.1,309.8 609.7,323.2 628.9,332.9 648.5,341.1 666,350.5 494.5,350" fill="#a6e33b" stroke="none" stroke-width="0"/>
<polygon points="494.5,344 495.2,344 513.8,343.5 533,344.1 552.4,344.4 571.9,345 590.9,345.8 610.1,346.7 629.1,347.9 645,349.5 494.5,350" fill="#8f9cff" stroke="none" stroke-width="0"/>
<polyline points="494.5,201.5 495,202.5 513.9,219.1 533.25,235 552,252.5 571.25,269.5 591,285 609.7,300.8 628.9,316.1 648.5,330.6 667.8,342.7 679.4,349.4 681,351" fill="none" stroke="#000" stroke-width="1.6" stroke-linejoin="round" stroke-linecap="round"/>
<polyline points="494.5,280.7 495.2,280.7 513.7,281.4 532.7,285.4 552.1,291.8 571.3,302.7 591.1,309.8 609.7,323.2 628.9,332.9 648.5,341.1 666,350.5" fill="none" stroke="#000" stroke-width="1.6" stroke-linejoin="round" stroke-linecap="round"/>
<polyline points="494.5,344 495.2,344 513.8,343.5 533,344.1 552.4,344.4 571.9,345 590.9,345.8 610.1,346.7 629.1,347.9 645,349.5" fill="none" stroke="#000" stroke-width="1.6" stroke-linejoin="round" stroke-linecap="round"/>
<circle cx="495" cy="202.5" r="3.0" fill="#0c6a48"/>
<circle cx="513.9" cy="219.1" r="3.0" fill="#0c6a48"/>
<circle cx="533.25" cy="235" r="3.0" fill="#0c6a48"/>
<circle cx="552" cy="252.5" r="3.0" fill="#0c6a48"/>
<circle cx="571.25" cy="269.5" r="3.0" fill="#0c6a48"/>
<circle cx="591" cy="285" r="3.0" fill="#0c6a48"/>
<circle cx="609.7" cy="300.8" r="3.0" fill="#0c6a48"/>
<circle cx="628.9" cy="316.1" r="3.0" fill="#0c6a48"/>
<circle cx="648.5" cy="330.6" r="3.0" fill="#0c6a48"/>
<circle cx="667.8" cy="342.7" r="3.0" fill="#0c6a48"/>
<circle cx="679.4" cy="349.4" r="3.0" fill="#0c6a48"/>
<circle cx="495.2" cy="280.7" r="3.0" fill="#8a0a0e"/>
<circle cx="513.7" cy="281.4" r="3.0" fill="#8a0a0e"/>
<circle cx="532.7" cy="285.4" r="3.0" fill="#8a0a0e"/>
<circle cx="552.1" cy="291.8" r="3.0" fill="#8a0a0e"/>
<circle cx="571.3" cy="302.7" r="3.0" fill="#8a0a0e"/>
<circle cx="591.1" cy="309.8" r="3.0" fill="#8a0a0e"/>
<circle cx="609.7" cy="323.2" r="3.0" fill="#8a0a0e"/>
<circle cx="628.9" cy="332.9" r="3.0" fill="#8a0a0e"/>
<circle cx="648.5" cy="341.1" r="3.0" fill="#8a0a0e"/>
<circle cx="667.5" cy="349.4" r="3.0" fill="#8a0a0e"/>
<circle cx="495.2" cy="344" r="2.9" fill="#f7a8d8"/>
<circle cx="513.8" cy="343.5" r="2.9" fill="#f7a8d8"/>
<circle cx="533" cy="344.1" r="2.9" fill="#f7a8d8"/>
<circle cx="552.4" cy="344.4" r="2.9" fill="#f7a8d8"/>
<circle cx="571.9" cy="345" r="2.9" fill="#f7a8d8"/>
<circle cx="590.9" cy="345.8" r="2.9" fill="#f7a8d8"/>
<circle cx="610.1" cy="346.7" r="2.9" fill="#f7a8d8"/>
<circle cx="629.1" cy="347.9" r="2.9" fill="#f7a8d8"/>
<rect x="490.3" y="350.8" width="196.59999999999997" height="6" fill="#fff"/>
<rect x="683.6999999999999" y="197.6" width="4" height="157.4" fill="#fff"/>
<rect x="494.3" y="197.6" width="188.6" height="152.4" fill="none" stroke="#000" stroke-width="1.6"/>
<line x1="492" y1="350.5" x2="494.3" y2="350.5" stroke="#000" stroke-width="1.2" stroke-linecap="butt"/>
<text x="0" y="0" font-size="12.2" font-weight="bold" text-anchor="end" fill="#000" font-family='"Liberation Sans", sans-serif' transform="translate(489.2 354.5) scale(1 1.12)">0</text>
<line x1="492" y1="313.5" x2="494.3" y2="313.5" stroke="#000" stroke-width="1.2" stroke-linecap="butt"/>
<text x="0" y="0" font-size="12.2" font-weight="bold" text-anchor="end" fill="#000" font-family='"Liberation Sans", sans-serif' transform="translate(489.2 317.5) scale(1 1.12)">1</text>
<line x1="492" y1="276.5" x2="494.3" y2="276.5" stroke="#000" stroke-width="1.2" stroke-linecap="butt"/>
<text x="0" y="0" font-size="12.2" font-weight="bold" text-anchor="end" fill="#000" font-family='"Liberation Sans", sans-serif' transform="translate(489.2 280.5) scale(1 1.12)">2</text>
<line x1="492" y1="239.5" x2="494.3" y2="239.5" stroke="#000" stroke-width="1.2" stroke-linecap="butt"/>
<text x="0" y="0" font-size="12.2" font-weight="bold" text-anchor="end" fill="#000" font-family='"Liberation Sans", sans-serif' transform="translate(489.2 243.5) scale(1 1.12)">3</text>
<line x1="492" y1="202.5" x2="494.3" y2="202.5" stroke="#000" stroke-width="1.2" stroke-linecap="butt"/>
<text x="0" y="0" font-size="12.2" font-weight="bold" text-anchor="end" fill="#000" font-family='"Liberation Sans", sans-serif' transform="translate(489.2 206.5) scale(1 1.12)">4</text>
<line x1="492.8" y1="332" x2="494.3" y2="332" stroke="#000" stroke-width="1" stroke-linecap="butt"/>
<line x1="492.8" y1="295" x2="494.3" y2="295" stroke="#000" stroke-width="1" stroke-linecap="butt"/>
<line x1="492.8" y1="258" x2="494.3" y2="258" stroke="#000" stroke-width="1" stroke-linecap="butt"/>
<line x1="492.8" y1="221" x2="494.3" y2="221" stroke="#000" stroke-width="1" stroke-linecap="butt"/>
<line x1="495" y1="350" x2="495" y2="352.3" stroke="#000" stroke-width="1.2" stroke-linecap="butt"/>
<text x="0" y="0" font-size="12.2" font-weight="bold" text-anchor="middle" fill="#000" font-family='"Liberation Sans", sans-serif' transform="translate(495 365.5) scale(1 1.12)">2.0</text>
<line x1="533.25" y1="350" x2="533.25" y2="352.3" stroke="#000" stroke-width="1.2" stroke-linecap="butt"/>
<text x="0" y="0" font-size="12.2" font-weight="bold" text-anchor="middle" fill="#000" font-family='"Liberation Sans", sans-serif' transform="translate(533.25 365.5) scale(1 1.12)">2.5</text>
<line x1="571.5" y1="350" x2="571.5" y2="352.3" stroke="#000" stroke-width="1.2" stroke-linecap="butt"/>
<text x="0" y="0" font-size="12.2" font-weight="bold" text-anchor="middle" fill="#000" font-family='"Liberation Sans", sans-serif' transform="translate(571.5 365.5) scale(1 1.12)">3.0</text>
<line x1="609.75" y1="350" x2="609.75" y2="352.3" stroke="#000" stroke-width="1.2" stroke-linecap="butt"/>
<text x="0" y="0" font-size="12.2" font-weight="bold" text-anchor="middle" fill="#000" font-family='"Liberation Sans", sans-serif' transform="translate(609.75 365.5) scale(1 1.12)">3.5</text>
<line x1="648" y1="350" x2="648" y2="352.3" stroke="#000" stroke-width="1.2" stroke-linecap="butt"/>
<text x="0" y="0" font-size="12.2" font-weight="bold" text-anchor="middle" fill="#000" font-family='"Liberation Sans", sans-serif' transform="translate(648 365.5) scale(1 1.12)">4.0</text>
<line x1="514.12" y1="350" x2="514.12" y2="351.5" stroke="#000" stroke-width="1" stroke-linecap="butt"/>
<line x1="552.38" y1="350" x2="552.38" y2="351.5" stroke="#000" stroke-width="1" stroke-linecap="butt"/>
<line x1="590.62" y1="350" x2="590.62" y2="351.5" stroke="#000" stroke-width="1" stroke-linecap="butt"/>
<line x1="628.88" y1="350" x2="628.88" y2="351.5" stroke="#000" stroke-width="1" stroke-linecap="butt"/>
<line x1="667.12" y1="350" x2="667.12" y2="351.5" stroke="#000" stroke-width="1" stroke-linecap="butt"/>
<text x="588.8" y="375.6" font-size="12.6" font-weight="bold" text-anchor="middle" fill="#000" font-family='"Liberation Sans", sans-serif'>T (K)</text>
<text transform="translate(479.8 274.7) rotate(-90)" text-anchor="middle" font-family='"Liberation Sans", sans-serif' font-size="12.9"><tspan font-weight="bold">B</tspan><tspan> (T)</tspan></text>
<text x="659.54" y="212.94" font-size="14.15" font-weight="bold" font-family='"Liberation Sans", sans-serif' textLength="3.42" lengthAdjust="spacingAndGlyphs">(</text>
<text x="670.04" y="212.94" font-size="14.15" font-weight="bold" font-family='"Liberation Sans", sans-serif' textLength="3.31" lengthAdjust="spacingAndGlyphs">)</text>
<text x="664.14" y="212.5" font-size="13.1" font-weight="bold" font-family='"Liberation Sans", sans-serif' textLength="4.19" lengthAdjust="spacingAndGlyphs">f</text>
<text x="560.5" y="247.5" font-size="9.9" font-weight="bold" text-anchor="start" fill="#000" font-family='"Liberation Sans", sans-serif' textLength="57.9" lengthAdjust="spacingAndGlyphs" stroke="#000" stroke-width="0.3">Normal state</text>
<text x="525.5" y="259" font-size="9.2" font-weight="bold" text-anchor="middle" fill="#2a0830" font-family='"Liberation Sans", sans-serif' textLength="20.2" lengthAdjust="spacingAndGlyphs" stroke="#2a0830" stroke-width="0.35">TAFF</text>
<text x="531.3" y="305.3" font-size="10" font-weight="bold" text-anchor="middle" fill="#111a05" font-family='"Liberation Sans", sans-serif' textLength="48.9" lengthAdjust="spacingAndGlyphs" stroke="#111a05" stroke-width="0.3">Bose metal</text>
<text x="580.9" y="333.9" font-size="10.5" font-weight="bold" text-anchor="middle" fill="#000" font-family='"Liberation Sans", sans-serif' textLength="30.8" lengthAdjust="spacingAndGlyphs">2D SC</text>
<line x1="563.9" y1="332.4" x2="559.24" y2="337.48" stroke="#000" stroke-width="1.1" stroke-linecap="butt"/>
<polygon points="556.2,340.8 558.25,335.9 560.91,338.33" fill="#000" stroke="none" stroke-width="0"/>
</svg>
</body></html>
